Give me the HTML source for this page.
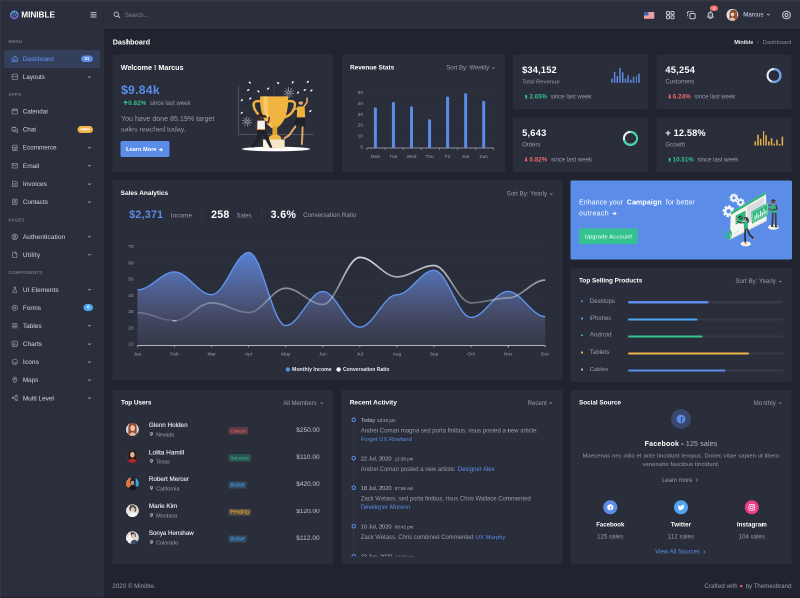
<!DOCTYPE html>
<html lang="en"><head><meta charset="utf-8"><title>Dashboard | Minible</title>
<style>
html,body{margin:0;padding:0;}
body{width:800px;height:598px;overflow:hidden;background:#21242e;font-family:"Liberation Sans",sans-serif;}
#root{will-change:transform;position:absolute;left:0;top:0;width:1600.00px;height:1196.00px;transform:scale(0.5);transform-origin:0 0;overflow:hidden;background:#21242e;}
#root div{box-sizing:border-box;}
.card{background:#2a2e3a;border-radius:3.20px;}
b{font-weight:700;}
</style></head><body><div id="root">
<div class="" style="position:absolute;left:0.00px;top:0.00px;width:208.00px;height:1196.00px;background:#2b2e3b;"></div>
<div class="" style="position:absolute;left:207.20px;top:0.00px;width:0.80px;height:1196.00px;background:#30343f;"></div>
<svg style="position:absolute;left:19.80px;top:20.80px;overflow:visible;" width="17.60" height="17.60" viewBox="0 0 8.8 8.8"><defs><linearGradient id="lg" x1="0.2" y1="0" x2="0.6" y2="1"><stop offset="0" stop-color="#49b4d8"/><stop offset="0.5" stop-color="#5f80d8"/><stop offset="1" stop-color="#8a58bc"/></linearGradient></defs><circle cx="4.4" cy="4.4" r="4.35" fill="url(#lg)"/><path d="M3.2 2.6L5.4 2.4L6.6 4.5L5.4 6.4L3.2 6.3L2 4.5ZM3.2 2.6L4.3 4.4L5.4 2.4M2 4.5H6.6M3.2 6.3L4.3 4.4L5.4 6.4" fill="none" stroke="#2b2e3b" stroke-width="0.4" opacity="0.55"/><circle cx="3.2" cy="2.6" r="0.78" fill="#2b2e3b"/><circle cx="5.4" cy="2.4" r="0.78" fill="#2b2e3b"/><circle cx="2.0" cy="4.5" r="0.78" fill="#2b2e3b"/><circle cx="4.3" cy="4.4" r="0.78" fill="#2b2e3b"/><circle cx="6.6" cy="4.5" r="0.78" fill="#2b2e3b"/><circle cx="3.2" cy="6.3" r="0.78" fill="#2b2e3b"/><circle cx="5.4" cy="6.4" r="0.78" fill="#2b2e3b"/></svg>
<div style="position:absolute;top:20.21px;line-height:19.79px;font-size:16.49px;color:#ffffff;font-weight:700;white-space:nowrap;letter-spacing:-0.08px;left:42.60px;">MINIBLE</div>
<svg style="position:absolute;left:180.80px;top:24.00px;overflow:visible;" width="12.00" height="11.20" viewBox="0 0 6 5.6"><path d="M0 0.6H6M0 2.8H6M0 5H6" stroke="#c5c9d6" stroke-width="1.05"/></svg>
<div style="position:absolute;top:78.40px;line-height:10.80px;font-size:9.00px;color:#70768a;font-weight:700;white-space:nowrap;letter-spacing:0.04em;left:16.80px;">MENU</div>
<div class="" style="position:absolute;left:8.00px;top:99.80px;width:192.20px;height:35.80px;background:#343f5b;border-radius:2.60px;"></div>
<svg style="position:absolute;left:23.20px;top:111.20px;overflow:visible;" width="13.20" height="13.20" viewBox="0 0 6.6 6.6"><path d="M0.6 3.1 L3.3 0.7 L6 3.1 V6 H0.6 Z" fill="none" stroke="#5b8ce8" stroke-width="0.75" stroke-linejoin="round" stroke-linecap="round"/><path d="M2.2 6 V4.2 H4.4 V6" fill="none" stroke="#5b8ce8" stroke-width="0.75" stroke-linejoin="round" stroke-linecap="round"/></svg>
<div style="position:absolute;top:110.75px;line-height:15.11px;font-size:12.59px;color:#5b8ce8;font-weight:400;white-space:nowrap;-webkit-text-stroke:0.20px #5b8ce8;letter-spacing:0.00px;left:45.80px;">Dashboard</div>
<div style="position:absolute;left:161.80px;top:110.80px;width:24.00px;height:13.40px;border-radius:6.80px;background:#5b8ce8;color:#fff;font-size:9.20px;line-height:13.40px;text-align:center;font-weight:700;">01</div>
<svg style="position:absolute;left:23.20px;top:147.20px;overflow:visible;" width="13.20" height="13.20" viewBox="0 0 6.6 6.6"><rect x="0.6" y="0.6" width="5.4" height="5.4" rx="0.8" fill="none" stroke="#8b90a3" stroke-width="0.75" stroke-linejoin="round" stroke-linecap="round"/><path d="M0.6 3.3H6" fill="none" stroke="#8b90a3" stroke-width="0.75" stroke-linejoin="round" stroke-linecap="round"/></svg>
<div style="position:absolute;top:146.80px;line-height:15.01px;font-size:12.51px;color:#bcc0ce;font-weight:400;white-space:nowrap;-webkit-text-stroke:0.20px #bcc0ce;letter-spacing:0.00px;left:45.80px;">Layouts</div>
<svg style="position:absolute;left:175.80px;top:152.70px;overflow:visible;" width="6.00" height="3.00" viewBox="0 0 3.0 1.5"><path d="M0.2 0.1 L1.5 1.2 L2.8 0.1" fill="none" stroke="#a0a5b5" stroke-width="0.75" stroke-linecap="round" stroke-linejoin="round"/></svg>
<div style="position:absolute;top:184.40px;line-height:10.80px;font-size:9.00px;color:#70768a;font-weight:700;white-space:nowrap;letter-spacing:0.04em;left:16.80px;">APPS</div>
<svg style="position:absolute;left:23.20px;top:216.40px;overflow:visible;" width="13.20" height="13.20" viewBox="0 0 6.6 6.6"><rect x="0.6" y="1.2" width="5.4" height="4.8" rx="0.8" fill="none" stroke="#8b90a3" stroke-width="0.75" stroke-linejoin="round" stroke-linecap="round"/><path d="M0.6 2.8H6M2 0.5V1.6M4.6 0.5V1.6" fill="none" stroke="#8b90a3" stroke-width="0.75" stroke-linejoin="round" stroke-linecap="round"/></svg>
<div style="position:absolute;top:215.99px;line-height:15.02px;font-size:12.52px;color:#bcc0ce;font-weight:400;white-space:nowrap;-webkit-text-stroke:0.20px #bcc0ce;letter-spacing:-0.00px;left:45.80px;">Calendar</div>
<svg style="position:absolute;left:23.20px;top:252.60px;overflow:visible;" width="13.20" height="13.20" viewBox="0 0 6.6 6.6"><path d="M0.6 0.8H4.4V3.8H1.8L0.6 4.8Z" fill="none" stroke="#8b90a3" stroke-width="0.75" stroke-linejoin="round" stroke-linecap="round"/><path d="M2.6 4.6V5.4H5L6 6.2V2.6H5.2" fill="none" stroke="#8b90a3" stroke-width="0.75" stroke-linejoin="round" stroke-linecap="round"/></svg>
<div style="position:absolute;top:252.26px;line-height:14.88px;font-size:12.40px;color:#bcc0ce;font-weight:400;white-space:nowrap;-webkit-text-stroke:0.20px #bcc0ce;letter-spacing:0.00px;left:45.80px;">Chat</div>
<div style="position:absolute;left:154.60px;top:252.20px;width:31.20px;height:13.40px;border-radius:6.80px;background:#f1b44c;color:#fff;font-size:9.20px;line-height:13.40px;text-align:center;font-weight:700;">New</div>
<svg style="position:absolute;left:23.20px;top:288.80px;overflow:visible;" width="13.20" height="13.20" viewBox="0 0 6.6 6.6"><path d="M0.6 2.4L1.2 0.7H5.4L6 2.4V2.9H0.6Z" fill="none" stroke="#8b90a3" stroke-width="0.75" stroke-linejoin="round" stroke-linecap="round"/><path d="M1.1 3V6H5.5V3M2.6 6V4.3H4V6" fill="none" stroke="#8b90a3" stroke-width="0.75" stroke-linejoin="round" stroke-linecap="round"/></svg>
<div style="position:absolute;top:288.32px;line-height:15.16px;font-size:12.63px;color:#bcc0ce;font-weight:400;white-space:nowrap;-webkit-text-stroke:0.20px #bcc0ce;letter-spacing:0.00px;left:45.80px;">Ecommerce</div>
<svg style="position:absolute;left:175.80px;top:294.30px;overflow:visible;" width="6.00" height="3.00" viewBox="0 0 3.0 1.5"><path d="M0.2 0.1 L1.5 1.2 L2.8 0.1" fill="none" stroke="#a0a5b5" stroke-width="0.75" stroke-linecap="round" stroke-linejoin="round"/></svg>
<svg style="position:absolute;left:23.20px;top:324.80px;overflow:visible;" width="13.20" height="13.20" viewBox="0 0 6.6 6.6"><rect x="0.6" y="1.1" width="5.4" height="4.4" rx="0.6" fill="none" stroke="#8b90a3" stroke-width="0.75" stroke-linejoin="round" stroke-linecap="round"/><path d="M0.8 1.5L3.3 3.5L5.8 1.5" fill="none" stroke="#8b90a3" stroke-width="0.75" stroke-linejoin="round" stroke-linecap="round"/></svg>
<div style="position:absolute;top:324.17px;line-height:15.45px;font-size:12.88px;color:#bcc0ce;font-weight:400;white-space:nowrap;-webkit-text-stroke:0.20px #bcc0ce;letter-spacing:0.04px;left:45.80px;">Email</div>
<svg style="position:absolute;left:175.80px;top:330.30px;overflow:visible;" width="6.00" height="3.00" viewBox="0 0 3.0 1.5"><path d="M0.2 0.1 L1.5 1.2 L2.8 0.1" fill="none" stroke="#a0a5b5" stroke-width="0.75" stroke-linecap="round" stroke-linejoin="round"/></svg>
<svg style="position:absolute;left:23.20px;top:361.00px;overflow:visible;" width="13.20" height="13.20" viewBox="0 0 6.6 6.6"><path d="M1 0.6H4.2L5.6 2V6H1Z" fill="none" stroke="#8b90a3" stroke-width="0.75" stroke-linejoin="round" stroke-linecap="round"/><path d="M2.2 3.2H4.4M2.2 4.5H4.4" fill="none" stroke="#8b90a3" stroke-width="0.75" stroke-linejoin="round" stroke-linecap="round"/></svg>
<div style="position:absolute;top:360.37px;line-height:15.45px;font-size:12.88px;color:#bcc0ce;font-weight:400;white-space:nowrap;-webkit-text-stroke:0.20px #bcc0ce;letter-spacing:0.10px;left:45.80px;">Invoices</div>
<svg style="position:absolute;left:175.80px;top:366.50px;overflow:visible;" width="6.00" height="3.00" viewBox="0 0 3.0 1.5"><path d="M0.2 0.1 L1.5 1.2 L2.8 0.1" fill="none" stroke="#a0a5b5" stroke-width="0.75" stroke-linecap="round" stroke-linejoin="round"/></svg>
<svg style="position:absolute;left:23.20px;top:397.20px;overflow:visible;" width="13.20" height="13.20" viewBox="0 0 6.6 6.6"><rect x="1" y="0.6" width="4.6" height="5.4" rx="0.6" fill="none" stroke="#8b90a3" stroke-width="0.75" stroke-linejoin="round" stroke-linecap="round"/><circle cx="3.3" cy="2.7" r="0.8" fill="none" stroke="#8b90a3" stroke-width="0.75" stroke-linejoin="round" stroke-linecap="round"/><path d="M2.1 4.8C2.4 3.9 4.2 3.9 4.5 4.8" fill="none" stroke="#8b90a3" stroke-width="0.75" stroke-linejoin="round" stroke-linecap="round"/></svg>
<div style="position:absolute;top:396.70px;line-height:15.20px;font-size:12.67px;color:#bcc0ce;font-weight:400;white-space:nowrap;-webkit-text-stroke:0.20px #bcc0ce;letter-spacing:0.00px;left:45.80px;">Contacts</div>
<svg style="position:absolute;left:175.80px;top:402.70px;overflow:visible;" width="6.00" height="3.00" viewBox="0 0 3.0 1.5"><path d="M0.2 0.1 L1.5 1.2 L2.8 0.1" fill="none" stroke="#a0a5b5" stroke-width="0.75" stroke-linecap="round" stroke-linejoin="round"/></svg>
<div style="position:absolute;top:434.60px;line-height:10.80px;font-size:9.00px;color:#70768a;font-weight:700;white-space:nowrap;letter-spacing:0.04em;left:16.80px;">PAGES</div>
<svg style="position:absolute;left:23.20px;top:466.60px;overflow:visible;" width="13.20" height="13.20" viewBox="0 0 6.6 6.6"><circle cx="3.3" cy="3.3" r="2.8" fill="none" stroke="#8b90a3" stroke-width="0.75" stroke-linejoin="round" stroke-linecap="round"/><circle cx="3.3" cy="2.6" r="0.9" fill="none" stroke="#8b90a3" stroke-width="0.75" stroke-linejoin="round" stroke-linecap="round"/><path d="M1.7 5.2C2.2 4.1 4.4 4.1 4.9 5.2" fill="none" stroke="#8b90a3" stroke-width="0.75" stroke-linejoin="round" stroke-linecap="round"/></svg>
<div style="position:absolute;top:465.97px;line-height:15.45px;font-size:12.88px;color:#bcc0ce;font-weight:400;white-space:nowrap;-webkit-text-stroke:0.20px #bcc0ce;letter-spacing:0.24px;left:45.80px;">Authentication</div>
<svg style="position:absolute;left:175.80px;top:472.10px;overflow:visible;" width="6.00" height="3.00" viewBox="0 0 3.0 1.5"><path d="M0.2 0.1 L1.5 1.2 L2.8 0.1" fill="none" stroke="#a0a5b5" stroke-width="0.75" stroke-linecap="round" stroke-linejoin="round"/></svg>
<svg style="position:absolute;left:23.20px;top:502.80px;overflow:visible;" width="13.20" height="13.20" viewBox="0 0 6.6 6.6"><path d="M1.2 0.6H4L5.4 2V6H1.2Z" fill="none" stroke="#8b90a3" stroke-width="0.75" stroke-linejoin="round" stroke-linecap="round"/><path d="M3.9 0.7V2.1H5.3" fill="none" stroke="#8b90a3" stroke-width="0.75" stroke-linejoin="round" stroke-linecap="round"/></svg>
<div style="position:absolute;top:502.17px;line-height:15.45px;font-size:12.88px;color:#bcc0ce;font-weight:400;white-space:nowrap;-webkit-text-stroke:0.20px #bcc0ce;letter-spacing:0.48px;left:45.80px;">Utility</div>
<svg style="position:absolute;left:175.80px;top:508.30px;overflow:visible;" width="6.00" height="3.00" viewBox="0 0 3.0 1.5"><path d="M0.2 0.1 L1.5 1.2 L2.8 0.1" fill="none" stroke="#a0a5b5" stroke-width="0.75" stroke-linecap="round" stroke-linejoin="round"/></svg>
<div style="position:absolute;top:540.20px;line-height:10.80px;font-size:9.00px;color:#70768a;font-weight:700;white-space:nowrap;letter-spacing:0.04em;left:16.80px;">COMPONENTS</div>
<svg style="position:absolute;left:23.20px;top:572.80px;overflow:visible;" width="13.20" height="13.20" viewBox="0 0 6.6 6.6"><path d="M2.5 0.6H4.1M2.8 0.6V2.4L1.2 5.3C1 5.7 1.2 6 1.7 6H4.9C5.4 6 5.6 5.7 5.4 5.3L3.8 2.4V0.6" fill="none" stroke="#8b90a3" stroke-width="0.75" stroke-linejoin="round" stroke-linecap="round"/></svg>
<div style="position:absolute;top:572.18px;line-height:15.45px;font-size:12.88px;color:#bcc0ce;font-weight:400;white-space:nowrap;-webkit-text-stroke:0.20px #bcc0ce;letter-spacing:0.13px;left:45.80px;">UI Elements</div>
<svg style="position:absolute;left:175.80px;top:578.30px;overflow:visible;" width="6.00" height="3.00" viewBox="0 0 3.0 1.5"><path d="M0.2 0.1 L1.5 1.2 L2.8 0.1" fill="none" stroke="#a0a5b5" stroke-width="0.75" stroke-linecap="round" stroke-linejoin="round"/></svg>
<svg style="position:absolute;left:23.20px;top:608.80px;overflow:visible;" width="13.20" height="13.20" viewBox="0 0 6.6 6.6"><circle cx="3.3" cy="3.3" r="2.7" fill="none" stroke="#8b90a3" stroke-width="0.75" stroke-linejoin="round" stroke-linecap="round"/><circle cx="3.3" cy="3.3" r="1" fill="none" stroke="#8b90a3" stroke-width="0.75" stroke-linejoin="round" stroke-linecap="round"/></svg>
<div style="position:absolute;top:608.23px;line-height:15.33px;font-size:12.78px;color:#bcc0ce;font-weight:400;white-space:nowrap;-webkit-text-stroke:0.20px #bcc0ce;letter-spacing:0.00px;left:45.80px;">Forms</div>
<div style="position:absolute;left:167.40px;top:608.40px;width:18.40px;height:13.40px;border-radius:6.80px;background:#50a5f1;color:#fff;font-size:9.20px;line-height:13.40px;text-align:center;font-weight:700;">6</div>
<svg style="position:absolute;left:23.20px;top:644.80px;overflow:visible;" width="13.20" height="13.20" viewBox="0 0 6.6 6.6"><path d="M0.8 1.2H5.8M0.8 2.6H5.8M0.8 4H5.8M0.8 5.4H5.8" fill="none" stroke="#8b90a3" stroke-width="0.75" stroke-linejoin="round" stroke-linecap="round"/></svg>
<div style="position:absolute;top:644.18px;line-height:15.45px;font-size:12.88px;color:#bcc0ce;font-weight:400;white-space:nowrap;-webkit-text-stroke:0.20px #bcc0ce;letter-spacing:0.03px;left:45.80px;">Tables</div>
<svg style="position:absolute;left:175.80px;top:650.30px;overflow:visible;" width="6.00" height="3.00" viewBox="0 0 3.0 1.5"><path d="M0.2 0.1 L1.5 1.2 L2.8 0.1" fill="none" stroke="#a0a5b5" stroke-width="0.75" stroke-linecap="round" stroke-linejoin="round"/></svg>
<svg style="position:absolute;left:23.20px;top:681.00px;overflow:visible;" width="13.20" height="13.20" viewBox="0 0 6.6 6.6"><rect x="0.6" y="0.6" width="5.4" height="5.4" rx="0.7" fill="none" stroke="#8b90a3" stroke-width="0.75" stroke-linejoin="round" stroke-linecap="round"/><path d="M2 4.8V3.3M3.3 4.8V2M4.6 4.8V3.8" fill="none" stroke="#8b90a3" stroke-width="0.75" stroke-linejoin="round" stroke-linecap="round"/></svg>
<div style="position:absolute;top:680.38px;line-height:15.45px;font-size:12.88px;color:#bcc0ce;font-weight:400;white-space:nowrap;-webkit-text-stroke:0.20px #bcc0ce;letter-spacing:0.05px;left:45.80px;">Charts</div>
<svg style="position:absolute;left:175.80px;top:686.50px;overflow:visible;" width="6.00" height="3.00" viewBox="0 0 3.0 1.5"><path d="M0.2 0.1 L1.5 1.2 L2.8 0.1" fill="none" stroke="#a0a5b5" stroke-width="0.75" stroke-linecap="round" stroke-linejoin="round"/></svg>
<svg style="position:absolute;left:23.20px;top:717.00px;overflow:visible;" width="13.20" height="13.20" viewBox="0 0 6.6 6.6"><circle cx="3.3" cy="3.3" r="2.7" fill="none" stroke="#8b90a3" stroke-width="0.75" stroke-linejoin="round" stroke-linecap="round"/><path d="M2 3.9C2.6 4.9 4 4.9 4.6 3.9" fill="none" stroke="#8b90a3" stroke-width="0.75" stroke-linejoin="round" stroke-linecap="round"/></svg>
<div style="position:absolute;top:716.38px;line-height:15.45px;font-size:12.88px;color:#bcc0ce;font-weight:400;white-space:nowrap;-webkit-text-stroke:0.20px #bcc0ce;letter-spacing:0.29px;left:45.80px;">Icons</div>
<svg style="position:absolute;left:175.80px;top:722.50px;overflow:visible;" width="6.00" height="3.00" viewBox="0 0 3.0 1.5"><path d="M0.2 0.1 L1.5 1.2 L2.8 0.1" fill="none" stroke="#a0a5b5" stroke-width="0.75" stroke-linecap="round" stroke-linejoin="round"/></svg>
<svg style="position:absolute;left:23.20px;top:753.20px;overflow:visible;" width="13.20" height="13.20" viewBox="0 0 6.6 6.6"><path d="M3.3 6.2C1.8 4.5 1.2 3.6 1.2 2.7A2.1 2.1 0 0 1 5.4 2.7C5.4 3.6 4.8 4.5 3.3 6.2Z" fill="none" stroke="#8b90a3" stroke-width="0.75" stroke-linejoin="round" stroke-linecap="round"/><circle cx="3.3" cy="2.7" r="0.7" fill="none" stroke="#8b90a3" stroke-width="0.75" stroke-linejoin="round" stroke-linecap="round"/></svg>
<div style="position:absolute;top:752.74px;line-height:15.11px;font-size:12.60px;color:#bcc0ce;font-weight:400;white-space:nowrap;-webkit-text-stroke:0.20px #bcc0ce;letter-spacing:-0.00px;left:45.80px;">Maps</div>
<svg style="position:absolute;left:175.80px;top:758.70px;overflow:visible;" width="6.00" height="3.00" viewBox="0 0 3.0 1.5"><path d="M0.2 0.1 L1.5 1.2 L2.8 0.1" fill="none" stroke="#a0a5b5" stroke-width="0.75" stroke-linecap="round" stroke-linejoin="round"/></svg>
<svg style="position:absolute;left:23.20px;top:789.40px;overflow:visible;" width="13.20" height="13.20" viewBox="0 0 6.6 6.6"><circle cx="1.5" cy="3.3" r="0.9" fill="none" stroke="#8b90a3" stroke-width="0.75" stroke-linejoin="round" stroke-linecap="round"/><circle cx="5" cy="1.4" r="0.9" fill="none" stroke="#8b90a3" stroke-width="0.75" stroke-linejoin="round" stroke-linecap="round"/><circle cx="5" cy="5.2" r="0.9" fill="none" stroke="#8b90a3" stroke-width="0.75" stroke-linejoin="round" stroke-linecap="round"/><path d="M2.3 2.9L4.2 1.8M2.3 3.7L4.2 4.8" fill="none" stroke="#8b90a3" stroke-width="0.75" stroke-linejoin="round" stroke-linecap="round"/></svg>
<div style="position:absolute;top:788.77px;line-height:15.45px;font-size:12.88px;color:#bcc0ce;font-weight:400;white-space:nowrap;-webkit-text-stroke:0.20px #bcc0ce;letter-spacing:0.06px;left:45.80px;">Multi Level</div>
<svg style="position:absolute;left:175.80px;top:794.90px;overflow:visible;" width="6.00" height="3.00" viewBox="0 0 3.0 1.5"><path d="M0.2 0.1 L1.5 1.2 L2.8 0.1" fill="none" stroke="#a0a5b5" stroke-width="0.75" stroke-linecap="round" stroke-linejoin="round"/></svg>
<div class="" style="position:absolute;left:208.00px;top:0.00px;width:1392.00px;height:58.20px;background:#2b2f3b;box-shadow:0 1.20px 3.20px rgba(10,12,18,0.35);"></div>
<svg style="position:absolute;left:226.60px;top:23.00px;overflow:visible;" width="13.20" height="13.20" viewBox="0 0 6.6 6.6"><circle cx="2.8" cy="2.8" r="2.2" fill="none" stroke="#c5c9d6" stroke-width="0.85"/><path d="M4.5 4.5L6.1 6.1" stroke="#c5c9d6" stroke-width="0.95" stroke-linecap="round"/></svg>
<div style="position:absolute;top:22.63px;line-height:14.33px;font-size:11.94px;color:#7d8296;font-weight:400;white-space:nowrap;letter-spacing:0.00px;left:249.40px;">Search...</div>
<svg style="position:absolute;left:1288.00px;top:24.20px;overflow:visible;" width="20.40" height="13.40" viewBox="0 0 10.2 6.7"><rect width="10.2" height="6.7" rx="0.5" fill="#f2f2f4"/><rect y="0.00" width="10.2" height="0.52" fill="#e8575f"/><rect y="1.03" width="10.2" height="0.52" fill="#e8575f"/><rect y="2.06" width="10.2" height="0.52" fill="#e8575f"/><rect y="3.09" width="10.2" height="0.52" fill="#e8575f"/><rect y="4.12" width="10.2" height="0.52" fill="#e8575f"/><rect y="5.15" width="10.2" height="0.52" fill="#e8575f"/><rect y="6.18" width="10.2" height="0.52" fill="#e8575f"/><rect width="4.5" height="3.6" fill="#4a5fa8"/></svg>
<svg style="position:absolute;left:1332.40px;top:21.80px;overflow:visible;" width="17.20" height="16.40" viewBox="0 0 8.6 8.2"><rect x="0.5" y="0.5" width="3.1" height="2.9" rx="0.8" fill="none" stroke="#c5c9d6" stroke-width="1.0"/><rect x="5.0" y="0.5" width="3.1" height="2.9" rx="0.8" fill="none" stroke="#c5c9d6" stroke-width="1.0"/><rect x="0.5" y="4.8" width="3.1" height="2.9" rx="0.8" fill="none" stroke="#c5c9d6" stroke-width="1.0"/><rect x="5.0" y="4.8" width="3.1" height="2.9" rx="0.8" fill="none" stroke="#c5c9d6" stroke-width="1.0"/></svg>
<svg style="position:absolute;left:1374.40px;top:21.60px;overflow:visible;" width="17.60" height="16.80" viewBox="0 0 8.8 8.4"><rect x="2.9" y="2.5" width="5.2" height="5.3" rx="1.0" fill="none" stroke="#c5c9d6" stroke-width="1.0" stroke-width="1.15"/><path d="M0.6 4.9V4.3M0.6 2.6V1.5Q0.6 0.6 1.5 0.6H2.1M3.6 0.6H4.4M5.8 0.6H6.2" fill="none" stroke="#c5c9d6" stroke-width="1.0" stroke-linecap="round"/></svg>
<svg style="position:absolute;left:1414.40px;top:22.40px;overflow:visible;" width="13.60" height="16.00" viewBox="0 0 6.8 8"><path d="M1.2 5.5V3.5A2.2 2.2 0 0 1 5.6 3.5V5.5L6.2 6.2H0.6Z" fill="#c5c9d6" fill-opacity="0.25" stroke="#c5c9d6" stroke-width="1.0" stroke-linejoin="round"/><path d="M2.6 7.4H4.2" fill="none" stroke="#c5c9d6" stroke-width="1.0" stroke-linecap="round"/><path d="M3.4 0.4V1" fill="none" stroke="#c5c9d6" stroke-width="1.0" stroke-linecap="round"/></svg>
<div style="position:absolute;left:1420.20px;top:10.60px;width:15.80px;height:11.00px;border-radius:5.60px;background:#f46a6a;color:#fff;font-size:8.00px;line-height:11.00px;text-align:center;font-weight:700;">3</div>
<svg style="position:absolute;left:1452.40px;top:17.00px;overflow:visible;" width="25.60" height="25.60" viewBox="0 0 12.8 12.8"><defs><clipPath id="avc"><circle cx="6.4" cy="6.4" r="5.9"/></clipPath></defs><circle cx="6.4" cy="6.4" r="6.4" fill="#3a3e4c"/><g clip-path="url(#avc)"><rect width="12.8" height="12.8" fill="#e6dfe6"/><path d="M3.6 13V7C3.2 3 5 1.2 7.2 1.2C10 1.2 11.6 3.4 11.2 7.4L12 13Z" fill="#7d3f2c"/><path d="M8.6 2.4C10.6 3.4 11 6 10.6 8.4L11.4 13H8.8Z" fill="#9a5238"/><ellipse cx="6.5" cy="5.6" rx="1.9" ry="2.5" fill="#f0c9b1"/><path d="M4.4 4.6C5 3 7.6 2.6 8.6 4.4C7.4 4 5.6 4 4.4 4.6Z" fill="#7d3f2c"/><path d="M3.2 13C3.6 9.8 5 9 6.4 9C7.8 9 9 9.6 9.6 13Z" fill="#ebbfa6"/></g></svg>
<div style="position:absolute;top:21.84px;line-height:14.71px;font-size:12.26px;color:#c8ccd8;font-weight:400;white-space:nowrap;-webkit-text-stroke:0.20px #c8ccd8;letter-spacing:0.00px;left:1486.60px;">Marcus</div>
<svg style="position:absolute;left:1534.40px;top:28.20px;overflow:visible;" width="5.60" height="2.80" viewBox="0 0 2.8 1.4"><path d="M0.2 0.1 L1.4 1.0999999999999999 L2.5999999999999996 0.1" fill="none" stroke="#c3c7d4" stroke-width="0.75" stroke-linecap="round" stroke-linejoin="round"/></svg>
<svg style="position:absolute;left:1564.20px;top:21.00px;overflow:visible;" width="18.00" height="18.00" viewBox="0 0 9 9"><path d="M4.5 0.6L5.6 1.3L6.9 1.2L7.4 2.4L8.4 3.2L8.1 4.5L8.4 5.8L7.4 6.6L6.9 7.8L5.6 7.7L4.5 8.4L3.4 7.7L2.1 7.8L1.6 6.6L0.6 5.8L0.9 4.5L0.6 3.2L1.6 2.4L2.1 1.2L3.4 1.3Z" fill="none" stroke="#c5c9d6" stroke-width="1.0" stroke-linejoin="round"/><circle cx="4.5" cy="4.5" r="1.5" fill="none" stroke="#c5c9d6" stroke-width="1.0"/></svg>
<div style="position:absolute;top:75.87px;line-height:17.06px;font-size:14.21px;color:#ffffff;font-weight:700;white-space:nowrap;letter-spacing:0.06px;left:225.40px;">Dashboard</div>
<div style="position:absolute;top:77.78px;line-height:13.24px;font-size:11.03px;color:#e8eaf0;font-weight:700;white-space:nowrap;letter-spacing:-0.00px;left:1468.60px;">Minible</div>
<div style="position:absolute;top:77.80px;line-height:13.20px;font-size:11.00px;color:#6f7488;font-weight:400;white-space:nowrap;left:1115.80px;width:800.00px;text-align:center;">/</div>
<div style="position:absolute;top:77.60px;line-height:13.60px;font-size:11.33px;color:#8d92a5;font-weight:400;white-space:nowrap;letter-spacing:0.20px;left:1525.80px;">Dashboard</div>
<div class="card" style="position:absolute;left:224.80px;top:108.70px;width:440.80px;height:234.90px;"></div>
<div style="position:absolute;top:126.60px;line-height:17.20px;font-size:14.33px;color:#ffffff;font-weight:700;white-space:nowrap;letter-spacing:0.00px;left:241.40px;">Welcome ! Marcus</div>
<div style="position:absolute;top:164.82px;line-height:29.17px;font-size:24.31px;color:#5b8ce8;font-weight:700;white-space:nowrap;letter-spacing:0.57px;left:242.00px;">$9.84k</div>
<svg style="position:absolute;left:246.60px;top:201.00px;overflow:visible;" width="8.00" height="8.40" viewBox="0 0 4.0 4.2"><path d="M2 4V0.8M0.5 2.2L2 0.6L3.5 2.2" fill="none" stroke="#34c38f" stroke-width="1.0" stroke-linecap="round" stroke-linejoin="round"/></svg>
<div style="position:absolute;top:198.51px;line-height:14.58px;font-size:12.15px;color:#34c38f;font-weight:700;white-space:nowrap;letter-spacing:0.31px;left:256.60px;">0.82%</div>
<div style="position:absolute;top:198.56px;line-height:14.48px;font-size:12.06px;color:#989db0;font-weight:400;white-space:nowrap;letter-spacing:0.00px;left:299.40px;">since last week</div>
<div style="position:absolute;top:229.00px;line-height:16.81px;font-size:14.01px;color:#989db0;font-weight:400;white-space:nowrap;letter-spacing:0.10px;left:242.00px;">You have done 85.19% target</div>
<div style="position:absolute;top:250.00px;line-height:16.81px;font-size:14.01px;color:#989db0;font-weight:400;white-space:nowrap;letter-spacing:0.07px;left:242.00px;">sales reached today.</div>
<div class="" style="position:absolute;left:241.20px;top:282.20px;width:97.40px;height:31.80px;background:#5b8ce8;border-radius:3.80px;"></div>
<div style="position:absolute;top:292.19px;line-height:13.62px;font-size:11.35px;color:#ffffff;font-weight:700;white-space:nowrap;letter-spacing:0.00px;left:252.00px;">Learn More</div>
<svg style="position:absolute;left:318.40px;top:295.60px;overflow:visible;" width="7.20" height="6.80" viewBox="0 0 3.6 3.4"><path d="M0.3 1.7H3.1M1.9 0.4L3.2 1.7L1.9 3" fill="none" stroke="#ffffff" stroke-width="0.85" stroke-linecap="round" stroke-linejoin="round"/></svg>
<svg style="position:absolute;left:0;top:0;overflow:visible" width="1600.00" height="1196.00" viewBox="0 0 800 598"><path d="M238.6 85.5V134.7H313.5" fill="none" stroke="#70748a" stroke-width="0.5"/><path d="M274.1 83V96" stroke="#555a6c" stroke-width="0.4"/><ellipse cx="276" cy="149" rx="34" ry="2.3" fill="#ffffff"/><rect x="263.2" y="139.5" width="21.5" height="9" fill="#f4e6c6"/><rect x="263.2" y="139.5" width="6" height="9" fill="#fbf3df"/><path d="M261.5 101.5C253 99.5 252.5 104 254.6 109C256.6 113.6 260.6 116.6 265 117.6" fill="none" stroke="#efb03e" stroke-width="2.4" stroke-linecap="round"/><path d="M287 101.5C295.5 99.5 296 104 293.9 109C291.9 113.6 287.9 116.6 283.5 117.6" fill="none" stroke="#efb03e" stroke-width="2.4" stroke-linecap="round"/><path d="M260.1 96.4H288.2C288.6 110 285.4 122.5 277.4 127.4H271C263 122.5 259.7 110 260.1 96.4Z" fill="#f2b441"/><path d="M263.4 96.4H267.6C267.4 110 268.6 121 272.8 127.4H271C265 122 263 110 263.4 96.4Z" fill="#f8cf78" opacity="0.75"/><rect x="272.4" y="126.5" width="4.8" height="9.6" fill="#e4a330"/><path d="M268.6 139.5C268.6 136 271 134.8 274.9 134.8C278.8 134.8 281.3 136 281.3 139.5Z" fill="#f2b441"/><path d="M258 116.4C257.6 113 262.6 112.6 263 115.4C265 114.6 267 116 266.6 118.4C265.2 117 264 117.2 262.8 118Z" fill="#1c1d25"/><circle cx="260.4" cy="117" r="2.15" fill="#5e2f22"/><path d="M258.2 116.2C258.4 114 262.4 114 262.6 116.2C261.4 115.2 259.4 115.2 258.2 116.2Z" fill="#1c1d25"/><path d="M257.6 121.6L255.4 126L257.2 130.4" fill="none" stroke="#5e2f22" stroke-width="1.6" stroke-linecap="round" stroke-linejoin="round"/><path d="M264.4 121.6L268.4 122.6L269.2 117.6" fill="none" stroke="#5e2f22" stroke-width="1.6" stroke-linecap="round" stroke-linejoin="round"/><path d="M257.4 120.6H264.8L265 129.6H257.2Z" fill="#f4f2f1"/><rect x="257.2" y="129" width="7.8" height="1" fill="#e0913a"/><path d="M257.2 130H265L268.6 138L272.4 147.8H270L265.4 139.6L262.6 135L259.6 140.6L252.4 148L250.8 146.6L256.6 139Z" fill="#1f212a"/><path d="M303.6 107L306.8 102.6L307.2 98.2" fill="none" stroke="#e6a96c" stroke-width="1.6" stroke-linecap="round" stroke-linejoin="round"/><path d="M298 108.4L292.6 109.8" fill="none" stroke="#e6a96c" stroke-width="1.6" stroke-linecap="round"/><circle cx="300.8" cy="102.7" r="2.2" fill="#e6a96c"/><path d="M298.7 102C298.8 99.8 302.6 99.6 303 102C301.6 101.2 300 101.2 298.7 102Z" fill="#2a2320"/><path d="M297.2 106.6L304.6 106.2L305.2 117.6H296.8Z" fill="#efb03e"/><path d="M296.8 117.4H305.2L305 127.4H300.6L299.4 122.6L296.6 127.6L293.2 125.6Z" fill="#1f212a"/><path d="M295.4 126.4L289 135.4L284.6 138.2" fill="none" stroke="#e6a96c" stroke-width="2.0" stroke-linecap="round" stroke-linejoin="round"/><path d="M302.6 127.2L302.3 137L301.8 144" fill="none" stroke="#e6a96c" stroke-width="1.9" stroke-linecap="round" stroke-linejoin="round"/><ellipse cx="249.8" cy="82.6" rx="1.35" ry="0.75" fill="#ffffff" transform="rotate(35 249.8 82.6)"/><ellipse cx="248.2" cy="90" rx="1.35" ry="0.75" fill="#ffffff" transform="rotate(-30 248.2 90)"/><ellipse cx="258.4" cy="91.4" rx="1.35" ry="0.75" fill="#ffffff" transform="rotate(50 258.4 91.4)"/><ellipse cx="268.2" cy="88.6" rx="1.35" ry="0.75" fill="#ffffff" transform="rotate(-40 268.2 88.6)"/><ellipse cx="250.3" cy="98.5" rx="1.35" ry="0.75" fill="#ffffff" transform="rotate(-40 250.3 98.5)"/><ellipse cx="241.8" cy="100.2" rx="1.35" ry="0.75" fill="#ffffff" transform="rotate(-55 241.8 100.2)"/><ellipse cx="241.8" cy="112.8" rx="1.35" ry="0.75" fill="#ffffff" transform="rotate(-40 241.8 112.8)"/><ellipse cx="278.1" cy="83" rx="1.35" ry="0.75" fill="#ffffff" transform="rotate(35 278.1 83)"/><ellipse cx="292.7" cy="82.3" rx="1.35" ry="0.75" fill="#ffffff" transform="rotate(-55 292.7 82.3)"/><ellipse cx="307.8" cy="81.9" rx="1.35" ry="0.75" fill="#ffffff" transform="rotate(-40 307.8 81.9)"/><ellipse cx="298" cy="92.6" rx="1.35" ry="0.75" fill="#ffffff" transform="rotate(-55 298 92.6)"/><ellipse cx="304.8" cy="90" rx="1.35" ry="0.75" fill="#ffffff" transform="rotate(-30 304.8 90)"/><ellipse cx="311.4" cy="90.5" rx="1.35" ry="0.75" fill="#ffffff" transform="rotate(-40 311.4 90.5)"/><ellipse cx="310.4" cy="111.1" rx="1.35" ry="0.75" fill="#ffffff" transform="rotate(-40 310.4 111.1)"/><path d="M289.87 92.85L293.94 93.89M289.54 93.37L292.22 96.60M288.96 93.60L289.23 97.79M288.37 93.45L286.12 96.99M287.97 92.97L284.07 94.52M287.93 92.35L283.86 91.31M288.26 91.83L285.58 88.60M288.84 91.60L288.57 87.41M289.43 91.75L291.68 88.21M289.83 92.23L293.73 90.68" stroke="#e9ebf1" stroke-width="0.45" fill="none" stroke-linecap="round"/><path d="M247.97 121.85L251.65 122.79M247.64 122.37L250.06 125.29M247.06 122.60L247.31 126.39M246.47 122.45L244.43 125.66M246.07 121.97L242.54 123.37M246.03 121.35L242.35 120.41M246.36 120.83L243.94 117.91M246.94 120.60L246.69 116.81M247.53 120.75L249.57 117.54M247.93 121.23L251.46 119.83" stroke="#e9ebf1" stroke-width="0.45" fill="none" stroke-linecap="round"/></svg>
<div class="card" style="position:absolute;left:683.60px;top:108.70px;width:326.40px;height:234.90px;"></div>
<div style="position:absolute;top:126.70px;line-height:15.39px;font-size:12.83px;color:#ffffff;font-weight:700;white-space:nowrap;letter-spacing:0.00px;left:700.00px;">Revenue Stats</div>
<div style="position:absolute;top:127.73px;line-height:14.55px;font-size:12.12px;color:#989db0;font-weight:400;white-space:nowrap;letter-spacing:-0.00px;left:892.40px;">Sort By: Weekly</div>
<svg style="position:absolute;left:984.20px;top:134.50px;overflow:visible;" width="5.20" height="2.60" viewBox="0 0 2.6 1.3"><path d="M0.2 0.1 L1.3 1.0 L2.4 0.1" fill="none" stroke="#989db0" stroke-width="0.7" stroke-linecap="round" stroke-linejoin="round"/></svg>
<svg style="position:absolute;left:0;top:0;overflow:visible" width="1600.00" height="1196.00" viewBox="0 0 800 598"><path d="M366.9 93.25H493.6" stroke="#343846" stroke-width="0.4"/><text x="363" y="94.15" font-size="4.8" fill="#9ca1b2" text-anchor="end" font-family="Liberation Sans, sans-serif">50</text><path d="M366.9 104.10H493.6" stroke="#343846" stroke-width="0.4"/><text x="363" y="105.00" font-size="4.8" fill="#9ca1b2" text-anchor="end" font-family="Liberation Sans, sans-serif">40</text><path d="M366.9 114.95H493.6" stroke="#343846" stroke-width="0.4"/><text x="363" y="115.85" font-size="4.8" fill="#9ca1b2" text-anchor="end" font-family="Liberation Sans, sans-serif">30</text><path d="M366.9 125.80H493.6" stroke="#343846" stroke-width="0.4"/><text x="363" y="126.70" font-size="4.8" fill="#9ca1b2" text-anchor="end" font-family="Liberation Sans, sans-serif">20</text><path d="M366.9 136.65H493.6" stroke="#343846" stroke-width="0.4"/><text x="363" y="137.55" font-size="4.8" fill="#9ca1b2" text-anchor="end" font-family="Liberation Sans, sans-serif">10</text><text x="363" y="148.40" font-size="4.8" fill="#9ca1b2" text-anchor="end" font-family="Liberation Sans, sans-serif">0</text><path d="M366.9 148.0H493.6" stroke="#aeb2c0" stroke-width="0.75"/><path d="M366.90 148.0V149.9" stroke="#aeb2c0" stroke-width="0.6"/><path d="M385.00 148.0V149.9" stroke="#aeb2c0" stroke-width="0.6"/><path d="M403.10 148.0V149.9" stroke="#aeb2c0" stroke-width="0.6"/><path d="M421.20 148.0V149.9" stroke="#aeb2c0" stroke-width="0.6"/><path d="M439.30 148.0V149.9" stroke="#aeb2c0" stroke-width="0.6"/><path d="M457.40 148.0V149.9" stroke="#aeb2c0" stroke-width="0.6"/><path d="M475.50 148.0V149.9" stroke="#aeb2c0" stroke-width="0.6"/><path d="M493.60 148.0V149.9" stroke="#aeb2c0" stroke-width="0.6"/><path d="M373.90 147.5V108.66Q373.90 107.36 375.40 107.36Q376.90 107.36 376.90 108.66V147.5Z" fill="#5b8ce8"/><text x="375.40" y="158" font-size="4.8" fill="#9ca1b2" text-anchor="middle" font-family="Liberation Sans, sans-serif">Mon</text><path d="M391.95 147.5V103.23Q391.95 101.93 393.45 101.93Q394.95 101.93 394.95 103.23V147.5Z" fill="#5b8ce8"/><text x="393.45" y="158" font-size="4.8" fill="#9ca1b2" text-anchor="middle" font-family="Liberation Sans, sans-serif">Tue</text><path d="M410.00 147.5V107.57Q410.00 106.27 411.50 106.27Q413.00 106.27 413.00 107.57V147.5Z" fill="#5b8ce8"/><text x="411.50" y="158" font-size="4.8" fill="#9ca1b2" text-anchor="middle" font-family="Liberation Sans, sans-serif">Wed</text><path d="M428.05 147.5V120.59Q428.05 119.29 429.55 119.29Q431.05 119.29 431.05 120.59V147.5Z" fill="#5b8ce8"/><text x="429.55" y="158" font-size="4.8" fill="#9ca1b2" text-anchor="middle" font-family="Liberation Sans, sans-serif">Thu</text><path d="M446.10 147.5V97.80Q446.10 96.50 447.60 96.50Q449.10 96.50 449.10 97.80V147.5Z" fill="#5b8ce8"/><text x="447.60" y="158" font-size="4.8" fill="#9ca1b2" text-anchor="middle" font-family="Liberation Sans, sans-serif">Fri</text><path d="M464.15 147.5V94.55Q464.15 93.25 465.65 93.25Q467.15 93.25 467.15 94.55V147.5Z" fill="#5b8ce8"/><text x="465.65" y="158" font-size="4.8" fill="#9ca1b2" text-anchor="middle" font-family="Liberation Sans, sans-serif">Sat</text><path d="M482.20 147.5V102.14Q482.20 100.84 483.70 100.84Q485.20 100.84 485.20 102.14V147.5Z" fill="#5b8ce8"/><text x="483.70" y="158" font-size="4.8" fill="#9ca1b2" text-anchor="middle" font-family="Liberation Sans, sans-serif">Sun</text></svg>
<div class="card" style="position:absolute;left:1026.20px;top:108.60px;width:270.20px;height:109.20px;"></div>
<div style="position:absolute;top:128.68px;line-height:22.25px;font-size:18.54px;color:#ffffff;font-weight:700;white-space:nowrap;letter-spacing:0.37px;left:1044.20px;">$34,152</div>
<div style="position:absolute;top:156.14px;line-height:14.11px;font-size:11.76px;color:#989db0;font-weight:400;white-space:nowrap;letter-spacing:0.00px;left:1044.20px;">Total Revenue</div>
<svg style="position:absolute;left:1049.40px;top:188.60px;overflow:visible;" width="6.60" height="8.80" viewBox="0 0 3.3 4.4"><path d="M1.65 0L3.3 2H2.35V4.4H0.95V2H0Z" fill="#34c38f"/></svg>
<div style="position:absolute;top:186.11px;line-height:14.58px;font-size:12.15px;color:#34c38f;font-weight:700;white-space:nowrap;letter-spacing:0.11px;left:1059.00px;">2.65%</div>
<div style="position:absolute;top:186.16px;line-height:14.48px;font-size:12.06px;color:#989db0;font-weight:400;white-space:nowrap;letter-spacing:0.00px;left:1101.20px;">since last week</div>
<svg style="position:absolute;left:0;top:0;overflow:visible" width="1600.00" height="1196.00" viewBox="0 0 800 598"><rect x="611.10" y="78.66" width="1.55" height="4.14" fill="#5b86dd"/><rect x="613.81" y="71.85" width="1.55" height="10.95" fill="#5b86dd"/><rect x="616.52" y="75.99" width="1.55" height="6.81" fill="#5b86dd"/><rect x="619.23" y="68.00" width="1.55" height="14.80" fill="#5b86dd"/><rect x="621.94" y="72.29" width="1.55" height="10.51" fill="#5b86dd"/><rect x="624.65" y="78.66" width="1.55" height="4.14" fill="#5b86dd"/><rect x="627.36" y="75.40" width="1.55" height="7.40" fill="#5b86dd"/><rect x="630.07" y="79.69" width="1.55" height="3.11" fill="#5b86dd"/><rect x="632.78" y="76.88" width="1.55" height="5.92" fill="#5b86dd"/><rect x="635.49" y="76.14" width="1.55" height="6.66" fill="#5b86dd"/><rect x="638.20" y="73.77" width="1.55" height="9.03" fill="#5b86dd"/></svg>
<div class="card" style="position:absolute;left:1312.80px;top:108.60px;width:270.20px;height:109.20px;"></div>
<div style="position:absolute;top:128.68px;line-height:22.25px;font-size:18.54px;color:#ffffff;font-weight:700;white-space:nowrap;letter-spacing:0.45px;left:1330.80px;">45,254</div>
<div style="position:absolute;top:156.03px;line-height:14.35px;font-size:11.96px;color:#989db0;font-weight:400;white-space:nowrap;letter-spacing:0.00px;left:1330.80px;">Customers</div>
<svg style="position:absolute;left:1336.00px;top:188.60px;overflow:visible;" width="6.60" height="8.80" viewBox="0 0 3.3 4.4"><path d="M1.65 4.4L3.3 2.4H2.35V0H0.95V2.4H0Z" fill="#f46a6a"/></svg>
<div style="position:absolute;top:186.11px;line-height:14.58px;font-size:12.15px;color:#f46a6a;font-weight:700;white-space:nowrap;letter-spacing:0.31px;left:1345.60px;">6.24%</div>
<div style="position:absolute;top:186.16px;line-height:14.48px;font-size:12.06px;color:#989db0;font-weight:400;white-space:nowrap;letter-spacing:0.00px;left:1388.80px;">since last week</div>
<svg style="position:absolute;left:0;top:0;overflow:visible" width="1600.00" height="1196.00" viewBox="0 0 800 598"><circle cx="774.0" cy="75.5" r="6.45" fill="none" stroke="#e9edf6" stroke-width="2.1"/><circle cx="774.0" cy="75.5" r="6.45" fill="none" stroke="#6ea4f4" stroke-width="2.1" stroke-dasharray="22.29 40.53" transform="rotate(-90 774.0 75.5)"/></svg>
<div class="card" style="position:absolute;left:1026.20px;top:234.80px;width:270.20px;height:109.20px;"></div>
<div style="position:absolute;top:254.88px;line-height:22.25px;font-size:18.54px;color:#ffffff;font-weight:700;white-space:nowrap;letter-spacing:0.48px;left:1044.20px;">5,643</div>
<div style="position:absolute;top:282.18px;line-height:14.45px;font-size:12.04px;color:#989db0;font-weight:400;white-space:nowrap;letter-spacing:0.00px;left:1044.20px;">Orders</div>
<svg style="position:absolute;left:1049.40px;top:314.80px;overflow:visible;" width="6.60" height="8.80" viewBox="0 0 3.3 4.4"><path d="M1.65 4.4L3.3 2.4H2.35V0H0.95V2.4H0Z" fill="#f46a6a"/></svg>
<div style="position:absolute;top:312.31px;line-height:14.58px;font-size:12.15px;color:#f46a6a;font-weight:700;white-space:nowrap;letter-spacing:0.31px;left:1059.00px;">0.82%</div>
<div style="position:absolute;top:312.36px;line-height:14.48px;font-size:12.06px;color:#989db0;font-weight:400;white-space:nowrap;letter-spacing:0.00px;left:1102.20px;">since last week</div>
<svg style="position:absolute;left:0;top:0;overflow:visible" width="1600.00" height="1196.00" viewBox="0 0 800 598"><circle cx="630.4" cy="138.4" r="6.45" fill="none" stroke="#e9edf6" stroke-width="2.1"/><circle cx="630.4" cy="138.4" r="6.45" fill="none" stroke="#3fd9a2" stroke-width="2.1" stroke-dasharray="28.37 40.53" transform="rotate(-90 630.4 138.4)"/></svg>
<div class="card" style="position:absolute;left:1312.80px;top:234.80px;width:270.20px;height:109.20px;"></div>
<div style="position:absolute;top:254.88px;line-height:22.25px;font-size:18.54px;color:#ffffff;font-weight:700;white-space:nowrap;letter-spacing:0.24px;left:1330.80px;">+ 12.58%</div>
<div style="position:absolute;top:282.11px;line-height:14.58px;font-size:12.15px;color:#989db0;font-weight:400;white-space:nowrap;letter-spacing:0.07px;left:1330.80px;">Growth</div>
<svg style="position:absolute;left:1336.00px;top:314.80px;overflow:visible;" width="6.60" height="8.80" viewBox="0 0 3.3 4.4"><path d="M1.65 0L3.3 2H2.35V4.4H0.95V2H0Z" fill="#34c38f"/></svg>
<div style="position:absolute;top:312.31px;line-height:14.58px;font-size:12.15px;color:#34c38f;font-weight:700;white-space:nowrap;letter-spacing:0.13px;left:1345.60px;">10.51%</div>
<div style="position:absolute;top:312.36px;line-height:14.48px;font-size:12.06px;color:#989db0;font-weight:400;white-space:nowrap;letter-spacing:0.00px;left:1394.80px;">since last week</div>
<svg style="position:absolute;left:0;top:0;overflow:visible" width="1600.00" height="1196.00" viewBox="0 0 800 598"><rect x="754.50" y="141.44" width="1.55" height="4.06" fill="#e9ae48"/><rect x="757.21" y="134.77" width="1.55" height="10.73" fill="#e9ae48"/><rect x="759.92" y="138.83" width="1.55" height="6.67" fill="#e9ae48"/><rect x="762.63" y="131.00" width="1.55" height="14.50" fill="#e9ae48"/><rect x="765.34" y="135.21" width="1.55" height="10.29" fill="#e9ae48"/><rect x="768.05" y="141.44" width="1.55" height="4.06" fill="#e9ae48"/><rect x="770.76" y="138.25" width="1.55" height="7.25" fill="#e9ae48"/><rect x="773.47" y="143.62" width="1.55" height="1.89" fill="#e9ae48"/><rect x="776.18" y="139.70" width="1.55" height="5.80" fill="#e9ae48"/><rect x="778.89" y="144.05" width="1.55" height="1.45" fill="#e9ae48"/><rect x="781.60" y="136.66" width="1.55" height="8.85" fill="#e9ae48"/></svg>
<div class="card" style="position:absolute;left:224.80px;top:361.00px;width:900.20px;height:400.40px;"></div>
<div style="position:absolute;top:378.18px;line-height:15.65px;font-size:13.04px;color:#ffffff;font-weight:700;white-space:nowrap;letter-spacing:0.00px;left:241.20px;">Sales Analytics</div>
<div style="position:absolute;top:380.11px;line-height:14.58px;font-size:12.15px;color:#989db0;font-weight:400;white-space:nowrap;letter-spacing:0.09px;left:1013.20px;">Sort By: Yearly</div>
<svg style="position:absolute;left:1100.20px;top:386.90px;overflow:visible;" width="5.20" height="2.60" viewBox="0 0 2.6 1.3"><path d="M0.2 0.1 L1.3 1.0 L2.4 0.1" fill="none" stroke="#989db0" stroke-width="0.7" stroke-linecap="round" stroke-linejoin="round"/></svg>
<div style="position:absolute;top:416.07px;line-height:25.46px;font-size:21.22px;color:#5b8ce8;font-weight:700;white-space:nowrap;letter-spacing:0.55px;left:258.40px;">$2,371</div>
<div style="position:absolute;top:423.34px;line-height:15.33px;font-size:12.77px;color:#989db0;font-weight:400;white-space:nowrap;letter-spacing:0.09px;left:341.60px;">Income</div>
<div class="" style="position:absolute;left:402.80px;top:415.00px;width:0.80px;height:28.00px;background:#383c4a;"></div>
<div style="position:absolute;top:416.07px;line-height:25.46px;font-size:21.22px;color:#ffffff;font-weight:700;white-space:nowrap;letter-spacing:0.53px;left:422.20px;">258</div>
<div style="position:absolute;top:423.71px;line-height:14.58px;font-size:12.15px;color:#989db0;font-weight:400;white-space:nowrap;letter-spacing:0.00px;left:473.00px;">Sales</div>
<div class="" style="position:absolute;left:522.00px;top:415.00px;width:0.80px;height:28.00px;background:#383c4a;"></div>
<div style="position:absolute;top:416.07px;line-height:25.46px;font-size:21.22px;color:#ffffff;font-weight:700;white-space:nowrap;letter-spacing:0.76px;left:541.20px;">3.6%</div>
<div style="position:absolute;top:423.48px;line-height:15.04px;font-size:12.53px;color:#989db0;font-weight:400;white-space:nowrap;letter-spacing:0.00px;left:606.20px;">Conversation Ratio</div>
<svg style="position:absolute;left:0;top:0;overflow:visible" width="1600.00" height="1196.00" viewBox="0 0 800 598"><defs><linearGradient id="ag" x1="0" y1="0" x2="0" y2="1"><stop offset="0" stop-color="#5b8ce8" stop-opacity="0.88"/><stop offset="0.47" stop-color="#728cdb" stop-opacity="0.46"/><stop offset="0.65" stop-color="#808ed6" stop-opacity="0.31"/><stop offset="0.82" stop-color="#8d91d4" stop-opacity="0.19"/><stop offset="1" stop-color="#9498d2" stop-opacity="0.11"/></linearGradient><linearGradient id="gl" gradientUnits="userSpaceOnUse" x1="0" y1="257.4" x2="0" y2="320.7"><stop offset="0" stop-color="#dcdde4" stop-opacity="0.95"/><stop offset="0.5" stop-color="#dcdde4" stop-opacity="0.55"/><stop offset="1" stop-color="#dcdde4" stop-opacity="0.18"/></linearGradient></defs><path d="M137.5 247.60H545.20" stroke="#343846" stroke-width="0.4"/><path d="M137.5 263.85H545.20" stroke="#343846" stroke-width="0.4"/><path d="M137.5 280.10H545.20" stroke="#343846" stroke-width="0.4"/><path d="M137.5 296.35H545.20" stroke="#343846" stroke-width="0.4"/><path d="M137.5 312.60H545.20" stroke="#343846" stroke-width="0.4"/><path d="M137.5 328.85H545.20" stroke="#343846" stroke-width="0.4"/><text x="133.6" y="248.20" font-size="4.8" fill="#9ca1b2" text-anchor="end" font-family="Liberation Sans, sans-serif">70</text><text x="133.6" y="264.45" font-size="4.8" fill="#9ca1b2" text-anchor="end" font-family="Liberation Sans, sans-serif">60</text><text x="133.6" y="280.70" font-size="4.8" fill="#9ca1b2" text-anchor="end" font-family="Liberation Sans, sans-serif">50</text><text x="133.6" y="296.95" font-size="4.8" fill="#9ca1b2" text-anchor="end" font-family="Liberation Sans, sans-serif">40</text><text x="133.6" y="313.20" font-size="4.8" fill="#9ca1b2" text-anchor="end" font-family="Liberation Sans, sans-serif">30</text><text x="133.6" y="329.45" font-size="4.8" fill="#9ca1b2" text-anchor="end" font-family="Liberation Sans, sans-serif">20</text><text x="133.6" y="345.70" font-size="4.8" fill="#9ca1b2" text-anchor="end" font-family="Liberation Sans, sans-serif">10</text><path d="M137.50 289.85C150.84 289.85 161.22 271.98 174.56 271.98C187.91 271.98 198.28 294.73 211.63 294.73C224.97 294.73 235.35 252.48 248.69 252.48C262.03 252.48 272.41 325.60 285.75 325.60C299.10 325.60 309.48 291.48 322.82 291.48C336.16 291.48 346.54 327.23 359.88 327.23C373.22 327.23 383.60 294.73 396.95 294.73C410.29 294.73 420.67 270.35 434.01 270.35C447.35 270.35 457.73 317.48 471.07 317.48C484.42 317.48 494.79 291.48 508.14 291.48C521.48 291.48 531.86 316.66 545.20 316.66V345.1H137.5Z" fill="url(#ag)"/><path d="M137.50 289.85C150.84 289.85 161.22 271.98 174.56 271.98C187.91 271.98 198.28 294.73 211.63 294.73C224.97 294.73 235.35 252.48 248.69 252.48C262.03 252.48 272.41 325.60 285.75 325.60C299.10 325.60 309.48 291.48 322.82 291.48C336.16 291.48 346.54 327.23 359.88 327.23C373.22 327.23 383.60 294.73 396.95 294.73C410.29 294.73 420.67 270.35 434.01 270.35C447.35 270.35 457.73 317.48 471.07 317.48C484.42 317.48 494.79 291.48 508.14 291.48C521.48 291.48 531.86 316.66 545.20 316.66" fill="none" stroke="#5f93ee" stroke-width="1.4"/><path d="M137.50 312.60C150.84 312.60 161.22 320.73 174.56 320.73C187.91 320.73 198.28 302.85 211.63 302.85C224.97 302.85 235.35 312.60 248.69 312.60C262.03 312.60 272.41 288.23 285.75 288.23C299.10 288.23 309.48 304.48 322.82 304.48C336.16 304.48 346.54 257.35 359.88 257.35C373.22 257.35 383.60 276.85 396.95 276.85C410.29 276.85 420.67 265.48 434.01 265.48C447.35 265.48 457.73 302.85 471.07 302.85C484.42 302.85 494.79 297.98 508.14 297.98C521.48 297.98 531.86 280.10 545.20 280.10" fill="none" stroke="url(#gl)" stroke-width="1.7"/><path d="M172.96 320.73H176.16" stroke="#d0d2da" stroke-width="1.2" stroke-linecap="round" opacity="0.75"/><path d="M137.5 345.5H545.20" stroke="#b0b4c2" stroke-width="0.95"/><path d="M137.50 345.5V347.40000000000003" stroke="#b0b4c2" stroke-width="0.75"/><text x="137.50" y="355.3" font-size="4.8" fill="#9ca1b2" text-anchor="middle" font-family="Liberation Sans, sans-serif">Jan</text><path d="M174.56 345.5V347.40000000000003" stroke="#b0b4c2" stroke-width="0.75"/><text x="174.56" y="355.3" font-size="4.8" fill="#9ca1b2" text-anchor="middle" font-family="Liberation Sans, sans-serif">Feb</text><path d="M211.63 345.5V347.40000000000003" stroke="#b0b4c2" stroke-width="0.75"/><text x="211.63" y="355.3" font-size="4.8" fill="#9ca1b2" text-anchor="middle" font-family="Liberation Sans, sans-serif">Mar</text><path d="M248.69 345.5V347.40000000000003" stroke="#b0b4c2" stroke-width="0.75"/><text x="248.69" y="355.3" font-size="4.8" fill="#9ca1b2" text-anchor="middle" font-family="Liberation Sans, sans-serif">Apr</text><path d="M285.75 345.5V347.40000000000003" stroke="#b0b4c2" stroke-width="0.75"/><text x="285.75" y="355.3" font-size="4.8" fill="#9ca1b2" text-anchor="middle" font-family="Liberation Sans, sans-serif">May</text><path d="M322.82 345.5V347.40000000000003" stroke="#b0b4c2" stroke-width="0.75"/><text x="322.82" y="355.3" font-size="4.8" fill="#9ca1b2" text-anchor="middle" font-family="Liberation Sans, sans-serif">Jun</text><path d="M359.88 345.5V347.40000000000003" stroke="#b0b4c2" stroke-width="0.75"/><text x="359.88" y="355.3" font-size="4.8" fill="#9ca1b2" text-anchor="middle" font-family="Liberation Sans, sans-serif">Jul</text><path d="M396.95 345.5V347.40000000000003" stroke="#b0b4c2" stroke-width="0.75"/><text x="396.95" y="355.3" font-size="4.8" fill="#9ca1b2" text-anchor="middle" font-family="Liberation Sans, sans-serif">Aug</text><path d="M434.01 345.5V347.40000000000003" stroke="#b0b4c2" stroke-width="0.75"/><text x="434.01" y="355.3" font-size="4.8" fill="#9ca1b2" text-anchor="middle" font-family="Liberation Sans, sans-serif">Sep</text><path d="M471.07 345.5V347.40000000000003" stroke="#b0b4c2" stroke-width="0.75"/><text x="471.07" y="355.3" font-size="4.8" fill="#9ca1b2" text-anchor="middle" font-family="Liberation Sans, sans-serif">Oct</text><path d="M508.14 345.5V347.40000000000003" stroke="#b0b4c2" stroke-width="0.75"/><text x="508.14" y="355.3" font-size="4.8" fill="#9ca1b2" text-anchor="middle" font-family="Liberation Sans, sans-serif">Nov</text><path d="M545.20 345.5V347.40000000000003" stroke="#b0b4c2" stroke-width="0.75"/><text x="545.20" y="355.3" font-size="4.8" fill="#9ca1b2" text-anchor="middle" font-family="Liberation Sans, sans-serif">Dec</text><circle cx="287.9" cy="369.5" r="2.2" fill="#5b8ce8"/><circle cx="338.6" cy="369.5" r="2.2" fill="#ffffff"/></svg>
<div style="position:absolute;top:732.94px;line-height:12.52px;font-size:10.43px;color:#e4e6ee;font-weight:700;white-space:nowrap;letter-spacing:0.00px;left:584.00px;">Monthly Income</div>
<div style="position:absolute;top:733.11px;line-height:12.17px;font-size:10.14px;color:#e4e6ee;font-weight:700;white-space:nowrap;letter-spacing:0.00px;left:686.00px;">Conversation Ratio</div>
<div class="" style="position:absolute;left:1141.40px;top:360.60px;width:442.40px;height:158.20px;background:#5b8ce8;border-radius:3.20px;"></div>
<div style="position:absolute;top:395.60px;line-height:16.81px;font-size:14.01px;color:#ffffff;font-weight:400;white-space:nowrap;letter-spacing:0.16px;left:1158.00px;">Enhance your</div>
<div style="position:absolute;top:395.60px;line-height:16.81px;font-size:14.01px;color:#ffffff;font-weight:700;white-space:nowrap;letter-spacing:0.31px;left:1253.60px;">Campaign</div>
<div style="position:absolute;top:395.60px;line-height:16.81px;font-size:14.01px;color:#ffffff;font-weight:400;white-space:nowrap;letter-spacing:0.19px;left:1331.80px;">for better</div>
<div style="position:absolute;top:418.40px;line-height:16.81px;font-size:14.01px;color:#ffffff;font-weight:400;white-space:nowrap;letter-spacing:0.69px;left:1158.00px;">outreach</div>
<svg style="position:absolute;left:1224.00px;top:423.20px;overflow:visible;" width="9.20" height="7.60" viewBox="0 0 4.6 3.8"><path d="M0.4 1.9H4M2.6 0.5L4.1 1.9L2.6 3.3" fill="none" stroke="#ffffff" stroke-width="0.85" stroke-linecap="round" stroke-linejoin="round"/></svg>
<div class="" style="position:absolute;left:1158.00px;top:457.00px;width:117.20px;height:31.20px;background:#34c38f;border-radius:2.80px;"></div>
<div style="position:absolute;top:465.55px;line-height:14.09px;font-size:11.74px;color:#ffffff;font-weight:400;white-space:nowrap;letter-spacing:0.19px;left:1169.20px;">Upgrade Account!</div>
<svg style="position:absolute;left:0;top:0;overflow:visible" width="1600.00" height="1196.00" viewBox="0 0 800 598"><rect x="732.91" y="193.50" width="1.98" height="2.48" rx="0.3" fill="#f6f8fc" transform="rotate(10 733.9 197.9)"/><rect x="732.91" y="193.50" width="1.98" height="2.48" rx="0.3" fill="#f6f8fc" transform="rotate(55 733.9 197.9)"/><rect x="732.91" y="193.50" width="1.98" height="2.48" rx="0.3" fill="#f6f8fc" transform="rotate(100 733.9 197.9)"/><rect x="732.91" y="193.50" width="1.98" height="2.48" rx="0.3" fill="#f6f8fc" transform="rotate(145 733.9 197.9)"/><rect x="732.91" y="193.50" width="1.98" height="2.48" rx="0.3" fill="#f6f8fc" transform="rotate(190 733.9 197.9)"/><rect x="732.91" y="193.50" width="1.98" height="2.48" rx="0.3" fill="#f6f8fc" transform="rotate(235 733.9 197.9)"/><rect x="732.91" y="193.50" width="1.98" height="2.48" rx="0.3" fill="#f6f8fc" transform="rotate(280 733.9 197.9)"/><rect x="732.91" y="193.50" width="1.98" height="2.48" rx="0.3" fill="#f6f8fc" transform="rotate(325 733.9 197.9)"/><circle cx="733.9" cy="197.9" r="2.42" fill="none" stroke="#f6f8fc" stroke-width="1.71"/><rect x="739.57" y="198.18" width="1.86" height="2.32" rx="0.3" fill="#f6f8fc" transform="rotate(10 740.5 202.3)"/><rect x="739.57" y="198.18" width="1.86" height="2.32" rx="0.3" fill="#f6f8fc" transform="rotate(55 740.5 202.3)"/><rect x="739.57" y="198.18" width="1.86" height="2.32" rx="0.3" fill="#f6f8fc" transform="rotate(100 740.5 202.3)"/><rect x="739.57" y="198.18" width="1.86" height="2.32" rx="0.3" fill="#f6f8fc" transform="rotate(145 740.5 202.3)"/><rect x="739.57" y="198.18" width="1.86" height="2.32" rx="0.3" fill="#f6f8fc" transform="rotate(190 740.5 202.3)"/><rect x="739.57" y="198.18" width="1.86" height="2.32" rx="0.3" fill="#f6f8fc" transform="rotate(235 740.5 202.3)"/><rect x="739.57" y="198.18" width="1.86" height="2.32" rx="0.3" fill="#f6f8fc" transform="rotate(280 740.5 202.3)"/><rect x="739.57" y="198.18" width="1.86" height="2.32" rx="0.3" fill="#f6f8fc" transform="rotate(325 740.5 202.3)"/><circle cx="740.5" cy="202.3" r="2.26" fill="none" stroke="#f6f8fc" stroke-width="1.59"/><rect x="727.26" y="205.34" width="2.69" height="3.36" rx="0.3" fill="#f6f8fc" transform="rotate(10 728.6 211.3)"/><rect x="727.26" y="205.34" width="2.69" height="3.36" rx="0.3" fill="#f6f8fc" transform="rotate(55 728.6 211.3)"/><rect x="727.26" y="205.34" width="2.69" height="3.36" rx="0.3" fill="#f6f8fc" transform="rotate(100 728.6 211.3)"/><rect x="727.26" y="205.34" width="2.69" height="3.36" rx="0.3" fill="#f6f8fc" transform="rotate(145 728.6 211.3)"/><rect x="727.26" y="205.34" width="2.69" height="3.36" rx="0.3" fill="#f6f8fc" transform="rotate(190 728.6 211.3)"/><rect x="727.26" y="205.34" width="2.69" height="3.36" rx="0.3" fill="#f6f8fc" transform="rotate(235 728.6 211.3)"/><rect x="727.26" y="205.34" width="2.69" height="3.36" rx="0.3" fill="#f6f8fc" transform="rotate(280 728.6 211.3)"/><rect x="727.26" y="205.34" width="2.69" height="3.36" rx="0.3" fill="#f6f8fc" transform="rotate(325 728.6 211.3)"/><circle cx="728.6" cy="211.3" r="3.28" fill="none" stroke="#f6f8fc" stroke-width="2.31"/><path d="M730.9 212.3L766 191.8L766.7 220.1L729.7 238.8Z" fill="#f6f5f0"/><path d="M729.7 238.8L766.7 220.1L766.7 221.1L729.7 239.9Z" fill="#e6e2d4"/><path d="M730.9 212.3L766 191.8L766.1 194.3L730.8 214.9Z" fill="#2fb77f"/><path d="M747.1 206.9L764 197.3V214.1L747.1 223.8Z" fill="#d9dbe1"/><path d="M735.7 215.6L745.6 210.5V220.1L735.7 224.6Z" fill="#2fb77f"/><circle cx="740.6" cy="217.6" r="2.0" fill="#1f2a33"/><path d="M739.4 218.8L741.8 216.4" stroke="#dfe6ea" stroke-width="0.6"/><path d="M733.6 233.6L738.6 231" stroke="#cfe9dc" stroke-width="1.2"/><path d="M731.4 238C727 236.6 725.6 234 725.4 231.6C728 232.4 730 234.4 731.4 238ZM731.6 237C729.4 233.6 729 230.8 729.6 228.6C731.6 230.4 732.4 233.4 731.6 237ZM731.4 239C727.6 239.4 725.6 238 724.6 236.4C727.4 236 729.8 237 731.4 239Z" fill="#2fb77f"/><path d="M751.3 211.7L768.8 202.1V214.7L752 223.8Z" fill="#2fb77f"/><path d="M752.5 212.5L767.7 204.1V214L753.1 222Z" fill="none" stroke="#e9f6ef" stroke-width="0.4"/><path d="M755 219.6V215.4M756.8 218.6V212.6M758.6 217.6V214.6M760.4 216.6V210.6M762.2 215.6V212.4M764 214.6V208.8M765.8 213.6V210.8" stroke="#f2faf6" stroke-width="1.05"/><ellipse cx="745.8" cy="243.9" rx="5.2" ry="2.5" fill="#f7f3e6"/><path d="M745.4 228.4L745 236L745.4 242.6" fill="none" stroke="#27303a" stroke-width="1.7" stroke-linecap="round" stroke-linejoin="round"/><path d="M746.8 228.4L749.6 234.6L753.6 238.6" fill="none" stroke="#27303a" stroke-width="1.7" stroke-linecap="round" stroke-linejoin="round"/><path d="M753.6 238.6L754.6 240.6" stroke="#d98d6c" stroke-width="1.1" stroke-linecap="round"/><path d="M745.2 242.6L746.2 243.8" stroke="#d98d6c" stroke-width="1.1" stroke-linecap="round"/><path d="M743.8 221.6L747.6 221.2L748 228.8H743.9Z" fill="#2fb77f"/><path d="M744 222.6L740.4 223L736 220.2" fill="none" stroke="#27303a" stroke-width="1.1" stroke-linecap="round" stroke-linejoin="round"/><path d="M737.4 221L735.6 219.8" stroke="#ef9a86" stroke-width="1.1" stroke-linecap="round"/><circle cx="746" cy="219" r="1.9" fill="#1d232c"/><path d="M747 218.4C748.6 219 748.4 221.6 747.6 222.6" stroke="#1d232c" stroke-width="1.2" fill="none"/><circle cx="745.4" cy="219.4" r="1.0" fill="#e9a58a"/><ellipse cx="773.4" cy="227.2" rx="5.4" ry="2.6" fill="#f7f3e6"/><path d="M772.8 212.4L772.6 220L772 225.6M775.6 212.4L775.8 220L775.8 226" fill="none" stroke="#3a4048" stroke-width="1.8" stroke-linecap="round" stroke-linejoin="round"/><path d="M771.6 226.2H773.2M775.4 226.8H777" stroke="#1d232c" stroke-width="1.2" stroke-linecap="round"/><path d="M770.8 204.6L776.4 204.8L776.8 212.8H771.2Z" fill="#2fb77f"/><path d="M776 205.2L777 209.2L772.4 210" fill="none" stroke="#3a4048" stroke-width="1.3" stroke-linecap="round" stroke-linejoin="round"/><path d="M771.2 205.6L768.4 205.2M772.4 210L768.6 208.8" fill="none" stroke="#8a4b35" stroke-width="1.1" stroke-linecap="round"/><circle cx="773.2" cy="201.7" r="2.0" fill="#8a4b35"/><path d="M771.2 201.2C771.2 198.8 775.4 198.8 775.4 201.4C774 200.4 772.6 200.4 771.2 201.2Z" fill="#1d232c"/></svg>
<div class="card" style="position:absolute;left:1141.40px;top:537.20px;width:442.40px;height:226.00px;"></div>
<div style="position:absolute;top:552.72px;line-height:15.36px;font-size:12.80px;color:#ffffff;font-weight:700;white-space:nowrap;letter-spacing:-0.02px;left:1158.00px;">Top Selling Products</div>
<div style="position:absolute;top:554.71px;line-height:14.58px;font-size:12.15px;color:#989db0;font-weight:400;white-space:nowrap;letter-spacing:0.09px;left:1470.80px;">Sort By: Yearly</div>
<svg style="position:absolute;left:1557.80px;top:561.50px;overflow:visible;" width="5.20" height="2.60" viewBox="0 0 2.6 1.3"><path d="M0.2 0.1 L1.3 1.0 L2.4 0.1" fill="none" stroke="#989db0" stroke-width="0.7" stroke-linecap="round" stroke-linejoin="round"/></svg>
<div class="" style="position:absolute;left:1161.80px;top:600.60px;width:3.80px;height:3.80px;background:#5b8ce8;border-radius:1.00px;"></div>
<div style="position:absolute;top:594.52px;line-height:14.57px;font-size:12.14px;color:#989db0;font-weight:400;white-space:nowrap;letter-spacing:0.00px;left:1179.40px;">Desktops</div>
<div class="" style="position:absolute;left:1255.80px;top:602.40px;width:310.00px;height:4.40px;background:#353a49;border-radius:2.20px;"></div>
<div class="" style="position:absolute;left:1255.80px;top:602.40px;width:161.20px;height:4.40px;background:#5b8ce8;border-radius:2.20px;"></div>
<div class="" style="position:absolute;left:1161.80px;top:634.80px;width:3.80px;height:3.80px;background:#50a5f1;border-radius:1.00px;"></div>
<div style="position:absolute;top:628.83px;line-height:14.34px;font-size:11.95px;color:#989db0;font-weight:400;white-space:nowrap;letter-spacing:0.00px;left:1179.40px;">iPhones</div>
<div class="" style="position:absolute;left:1255.80px;top:636.60px;width:310.00px;height:4.40px;background:#353a49;border-radius:2.20px;"></div>
<div class="" style="position:absolute;left:1255.80px;top:636.60px;width:139.50px;height:4.40px;background:#50a5f1;border-radius:2.20px;"></div>
<div class="" style="position:absolute;left:1161.80px;top:668.70px;width:3.80px;height:3.80px;background:#34c38f;border-radius:1.00px;"></div>
<div style="position:absolute;top:662.48px;line-height:14.83px;font-size:12.36px;color:#989db0;font-weight:400;white-space:nowrap;letter-spacing:0.17px;left:1179.40px;">Android</div>
<div class="" style="position:absolute;left:1255.80px;top:670.50px;width:310.00px;height:4.40px;background:#353a49;border-radius:2.20px;"></div>
<div class="" style="position:absolute;left:1255.80px;top:670.50px;width:148.80px;height:4.40px;background:#34c38f;border-radius:2.20px;"></div>
<div class="" style="position:absolute;left:1161.80px;top:702.80px;width:3.80px;height:3.80px;background:#f1b44c;border-radius:1.00px;"></div>
<div style="position:absolute;top:696.58px;line-height:14.83px;font-size:12.36px;color:#989db0;font-weight:400;white-space:nowrap;letter-spacing:0.01px;left:1179.40px;">Tablets</div>
<div class="" style="position:absolute;left:1255.80px;top:704.60px;width:310.00px;height:4.40px;background:#353a49;border-radius:2.20px;"></div>
<div class="" style="position:absolute;left:1255.80px;top:704.60px;width:241.80px;height:4.40px;background:#f1b44c;border-radius:2.20px;"></div>
<div class="" style="position:absolute;left:1161.80px;top:737.10px;width:3.80px;height:3.80px;background:#b9bdca;border-radius:1.00px;"></div>
<div style="position:absolute;top:731.21px;line-height:14.19px;font-size:11.82px;color:#989db0;font-weight:400;white-space:nowrap;letter-spacing:0.00px;left:1179.40px;">Cables</div>
<div class="" style="position:absolute;left:1255.80px;top:738.90px;width:310.00px;height:4.40px;background:#353a49;border-radius:2.20px;"></div>
<div class="" style="position:absolute;left:1255.80px;top:738.90px;width:195.30px;height:4.40px;background:#5b8ce8;border-radius:2.20px;"></div>
<div class="card" style="position:absolute;left:224.80px;top:780.20px;width:441.20px;height:348.80px;"></div>
<div style="position:absolute;top:797.12px;line-height:15.36px;font-size:12.80px;color:#ffffff;font-weight:700;white-space:nowrap;letter-spacing:-0.10px;left:242.00px;">Top Users</div>
<div style="position:absolute;top:798.59px;line-height:14.43px;font-size:12.02px;color:#989db0;font-weight:400;white-space:nowrap;letter-spacing:0.00px;left:566.60px;">All Members</div>
<svg style="position:absolute;left:640.80px;top:805.30px;overflow:visible;" width="5.20" height="2.60" viewBox="0 0 2.6 1.3"><path d="M0.2 0.1 L1.3 1.0 L2.4 0.1" fill="none" stroke="#989db0" stroke-width="0.7" stroke-linecap="round" stroke-linejoin="round"/></svg>
<svg style="position:absolute;left:0;top:0;overflow:visible" width="1600.00" height="1196.00" viewBox="0 0 800 598"><circle cx="132.4" cy="429.45" r="7.3" fill="#20232d" stroke="#363a48" stroke-width="0.4"/><defs><clipPath id="ua0"><circle cx="132.4" cy="429.45" r="6.4"/></clipPath></defs><g clip-path="url(#ua0)"><g transform="translate(132.4 429.45) scale(1.12) translate(-132.4 -429.45)"><rect x="126.0" y="423.05" width="14" height="14" fill="#ded6da"/><path d="M128.8 436.45V428.45C128.8 424.05 131.0 423.45 132.6 423.45C135.20000000000002 423.45 136.4 425.45 136.20000000000002 429.45V436.45Z" fill="#8f4a33"/><ellipse cx="132.6" cy="428.25" rx="2.1" ry="2.7" fill="#eec4aa"/><path d="M129.0 436.45C129.4 432.84999999999997 131.20000000000002 432.05 132.6 432.05C134.20000000000002 432.05 135.8 432.84999999999997 136.20000000000002 436.45Z" fill="#e7b69c"/></g></g></svg>
<div style="position:absolute;top:842.71px;line-height:15.19px;font-size:12.66px;color:#eceef4;font-weight:400;white-space:nowrap;-webkit-text-stroke:0.24px #eceef4;letter-spacing:0.00px;left:297.80px;">Glenn Holden</div>
<svg style="position:absolute;left:0;top:0;overflow:visible" width="1600.00" height="1196.00" viewBox="0 0 800 598"><path d="M151.5 436.25C150.3 434.85 149.9 434.25 149.9 433.55A1.6 1.6 0 0 1 153.1 433.55C153.1 434.25 152.7 434.85 151.5 436.25Z" fill="#989db0"/><circle cx="151.5" cy="433.55" r="0.55" fill="#2a2e3a"/></svg>
<div style="position:absolute;top:862.67px;line-height:13.27px;font-size:11.06px;color:#989db0;font-weight:400;white-space:nowrap;letter-spacing:-0.42px;left:312.20px;">Nevada</div>
<div class="" style="position:absolute;left:456.60px;top:854.30px;width:39.00px;height:14.60px;border-radius:2.20px;background:rgba(244,106,106,0.25);"></div>
<div style="position:absolute;top:855.66px;line-height:11.87px;font-size:9.89px;color:#f46a6a;font-weight:400;white-space:nowrap;letter-spacing:0.00px;left:460.70px;">Cancel</div>
<div style="position:absolute;top:851.57px;line-height:15.45px;font-size:12.88px;color:#c3c7d4;font-weight:400;white-space:nowrap;letter-spacing:0.04px;left:592.60px;">$250.00</div>
<svg style="position:absolute;left:0;top:0;overflow:visible" width="1600.00" height="1196.00" viewBox="0 0 800 598"><circle cx="132.4" cy="456.5" r="7.3" fill="#20232d" stroke="#363a48" stroke-width="0.4"/><defs><clipPath id="ua1"><circle cx="132.4" cy="456.5" r="6.4"/></clipPath></defs><g clip-path="url(#ua1)"><g transform="translate(132.4 456.5) scale(1.12) translate(-132.4 -456.5)"><rect x="126.0" y="450.1" width="14" height="14" fill="#3b3336"/><path d="M128.8 460.5V454.5C128.8 450.5 136.20000000000002 450.5 136.20000000000002 454.5V460.5Z" fill="#2a1a17"/><ellipse cx="132.4" cy="454.9" rx="2" ry="2.5" fill="#e3b394"/><path d="M127.4 463.5C127.80000000000001 459.3 130.8 458.5 132.4 458.5C134.0 458.5 137.0 459.3 137.4 463.5Z" fill="#b0262d"/></g></g></svg>
<div style="position:absolute;top:896.67px;line-height:15.45px;font-size:12.88px;color:#eceef4;font-weight:400;white-space:nowrap;-webkit-text-stroke:0.24px #eceef4;letter-spacing:0.03px;left:297.80px;">Lolita Hamill</div>
<svg style="position:absolute;left:0;top:0;overflow:visible" width="1600.00" height="1196.00" viewBox="0 0 800 598"><path d="M151.5 463.30C150.3 461.90 149.9 461.30 149.9 460.60A1.6 1.6 0 0 1 153.1 460.60C153.1 461.30 152.7 461.90 151.5 463.30Z" fill="#989db0"/><circle cx="151.5" cy="460.60" r="0.55" fill="#2a2e3a"/></svg>
<div style="position:absolute;top:916.77px;line-height:13.27px;font-size:11.06px;color:#989db0;font-weight:400;white-space:nowrap;letter-spacing:-0.38px;left:312.20px;">Texas</div>
<div class="" style="position:absolute;left:456.60px;top:908.40px;width:45.00px;height:14.60px;border-radius:2.20px;background:rgba(52,195,143,0.25);"></div>
<div style="position:absolute;top:909.86px;line-height:11.68px;font-size:9.74px;color:#34c38f;font-weight:400;white-space:nowrap;letter-spacing:0.00px;left:460.70px;">Success</div>
<div style="position:absolute;top:905.67px;line-height:15.45px;font-size:12.88px;color:#c3c7d4;font-weight:400;white-space:nowrap;letter-spacing:0.17px;left:592.60px;">$110.00</div>
<svg style="position:absolute;left:0;top:0;overflow:visible" width="1600.00" height="1196.00" viewBox="0 0 800 598"><circle cx="132.4" cy="483.55" r="7.3" fill="#20232d" stroke="#363a48" stroke-width="0.4"/><defs><clipPath id="ua2"><circle cx="132.4" cy="483.55" r="6.4"/></clipPath></defs><g clip-path="url(#ua2)"><g transform="translate(132.4 483.55) scale(1.12) translate(-132.4 -483.55)"><rect x="126.0" y="477.15000000000003" width="14" height="14" fill="#1c2c44"/><rect x="126.0" y="477.15000000000003" width="5" height="14" fill="#e2793a"/><rect x="135.4" y="477.15000000000003" width="4" height="9" fill="#3fa6d8"/><ellipse cx="132.4" cy="482.15000000000003" rx="2.2" ry="2.7" fill="#1a1a20"/><ellipse cx="132.4" cy="482.95" rx="1.6" ry="1.9" fill="#c98f6d"/><path d="M127.80000000000001 490.55C128.20000000000002 486.55 130.8 485.75 132.4 485.75C134.0 485.75 136.6 486.55 137.0 490.55Z" fill="#14161c"/></g></g></svg>
<div style="position:absolute;top:950.97px;line-height:15.06px;font-size:12.55px;color:#eceef4;font-weight:400;white-space:nowrap;-webkit-text-stroke:0.24px #eceef4;letter-spacing:0.00px;left:297.80px;">Robert Mercer</div>
<svg style="position:absolute;left:0;top:0;overflow:visible" width="1600.00" height="1196.00" viewBox="0 0 800 598"><path d="M151.5 490.35C150.3 488.95 149.9 488.35 149.9 487.65A1.6 1.6 0 0 1 153.1 487.65C153.1 488.35 152.7 488.95 151.5 490.35Z" fill="#989db0"/><circle cx="151.5" cy="487.65" r="0.55" fill="#2a2e3a"/></svg>
<div style="position:absolute;top:970.85px;line-height:13.29px;font-size:11.08px;color:#989db0;font-weight:400;white-space:nowrap;letter-spacing:0.00px;left:312.20px;">California</div>
<div class="" style="position:absolute;left:456.60px;top:962.50px;width:36.80px;height:14.60px;border-radius:2.20px;background:rgba(80,165,241,0.25);"></div>
<div style="position:absolute;top:963.74px;line-height:12.11px;font-size:10.09px;color:#50a5f1;font-weight:400;white-space:nowrap;letter-spacing:0.15px;left:460.80px;">Active</div>
<div style="position:absolute;top:959.77px;line-height:15.45px;font-size:12.88px;color:#c3c7d4;font-weight:400;white-space:nowrap;letter-spacing:0.04px;left:592.60px;">$420.00</div>
<svg style="position:absolute;left:0;top:0;overflow:visible" width="1600.00" height="1196.00" viewBox="0 0 800 598"><circle cx="132.4" cy="510.6" r="7.3" fill="#20232d" stroke="#363a48" stroke-width="0.4"/><defs><clipPath id="ua3"><circle cx="132.4" cy="510.6" r="6.4"/></clipPath></defs><g clip-path="url(#ua3)"><g transform="translate(132.4 510.6) scale(1.12) translate(-132.4 -510.6)"><rect x="126.0" y="504.20000000000005" width="14" height="14" fill="#e4e5e8"/><path d="M131.4 505.6C135.4 505.0 137.0 508.6 135.4 511.6L130.4 511.0C129.0 508.6 129.4 506.20000000000005 131.4 505.6Z" fill="#5b5350"/><ellipse cx="132.8" cy="509.8" rx="1.8" ry="2.2" fill="#e9c9b6"/><path d="M127.4 517.6C128.4 513.2 131.4 512.6 133.0 512.6C135.0 512.6 137.4 513.6 137.8 517.6Z" fill="#f6f6f8"/></g></g></svg>
<div style="position:absolute;top:1005.03px;line-height:15.14px;font-size:12.62px;color:#eceef4;font-weight:400;white-space:nowrap;-webkit-text-stroke:0.24px #eceef4;letter-spacing:-0.00px;left:297.80px;">Marie Kim</div>
<svg style="position:absolute;left:0;top:0;overflow:visible" width="1600.00" height="1196.00" viewBox="0 0 800 598"><path d="M151.5 517.40C150.3 516.00 149.9 515.40 149.9 514.70A1.6 1.6 0 0 1 153.1 514.70C153.1 515.40 152.7 516.00 151.5 517.40Z" fill="#989db0"/><circle cx="151.5" cy="514.70" r="0.55" fill="#2a2e3a"/></svg>
<div style="position:absolute;top:1024.97px;line-height:13.27px;font-size:11.06px;color:#989db0;font-weight:400;white-space:nowrap;letter-spacing:-0.03px;left:312.20px;">Montana</div>
<div class="" style="position:absolute;left:456.60px;top:1016.60px;width:45.60px;height:14.60px;border-radius:2.20px;background:rgba(241,180,76,0.25);"></div>
<div style="position:absolute;top:1017.84px;line-height:12.11px;font-size:10.09px;color:#f1b44c;font-weight:400;white-space:nowrap;letter-spacing:0.02px;left:460.80px;">Pending</div>
<div style="position:absolute;top:1013.88px;line-height:15.45px;font-size:12.88px;color:#c3c7d4;font-weight:400;white-space:nowrap;letter-spacing:0.04px;left:592.60px;">$120.00</div>
<svg style="position:absolute;left:0;top:0;overflow:visible" width="1600.00" height="1196.00" viewBox="0 0 800 598"><circle cx="132.4" cy="537.65" r="7.3" fill="#20232d" stroke="#363a48" stroke-width="0.4"/><defs><clipPath id="ua4"><circle cx="132.4" cy="537.65" r="6.4"/></clipPath></defs><g clip-path="url(#ua4)"><g transform="translate(132.4 537.65) scale(1.12) translate(-132.4 -537.65)"><rect x="126.0" y="531.25" width="14" height="14" fill="#dcdde2"/><path d="M125.4 538.65L131.4 534.65L134.4 544.65H125.4Z" fill="#f4f4f6"/><path d="M130.8 533.05C134.4 532.05 136.0 534.65 135.4 537.05L131.4 537.25Z" fill="#4a3a36"/><ellipse cx="133.20000000000002" cy="536.4499999999999" rx="1.7" ry="2.1" fill="#e6c2ad"/><path d="M130.4 544.65C130.8 540.65 132.4 539.65 134.0 539.65C136.0 539.65 137.8 541.05 138.0 544.65Z" fill="#3c4a63"/></g></g></svg>
<div style="position:absolute;top:1059.32px;line-height:14.76px;font-size:12.30px;color:#eceef4;font-weight:400;white-space:nowrap;-webkit-text-stroke:0.24px #eceef4;letter-spacing:0.00px;left:297.80px;">Sonya Henshaw</div>
<svg style="position:absolute;left:0;top:0;overflow:visible" width="1600.00" height="1196.00" viewBox="0 0 800 598"><path d="M151.5 544.45C150.3 543.05 149.9 542.45 149.9 541.75A1.6 1.6 0 0 1 153.1 541.75C153.1 542.45 152.7 543.05 151.5 544.45Z" fill="#989db0"/><circle cx="151.5" cy="541.75" r="0.55" fill="#2a2e3a"/></svg>
<div style="position:absolute;top:1079.07px;line-height:13.27px;font-size:11.06px;color:#989db0;font-weight:400;white-space:nowrap;letter-spacing:-0.08px;left:312.20px;">Colorado</div>
<div class="" style="position:absolute;left:456.60px;top:1070.70px;width:36.80px;height:14.60px;border-radius:2.20px;background:rgba(80,165,241,0.25);"></div>
<div style="position:absolute;top:1071.94px;line-height:12.11px;font-size:10.09px;color:#50a5f1;font-weight:400;white-space:nowrap;letter-spacing:0.15px;left:460.80px;">Active</div>
<div style="position:absolute;top:1067.98px;line-height:15.45px;font-size:12.88px;color:#c3c7d4;font-weight:400;white-space:nowrap;letter-spacing:0.17px;left:592.60px;">$112.00</div>
<div class="card" style="position:absolute;left:683.40px;top:780.20px;width:441.40px;height:348.80px;"></div>
<div style="position:absolute;top:796.92px;line-height:15.76px;font-size:13.13px;color:#ffffff;font-weight:700;white-space:nowrap;letter-spacing:0.00px;left:699.40px;">Recent Activity</div>
<div style="position:absolute;top:798.60px;line-height:14.39px;font-size:11.99px;color:#989db0;font-weight:400;white-space:nowrap;letter-spacing:0.00px;left:1055.40px;">Recent</div>
<svg style="position:absolute;left:1099.00px;top:805.30px;overflow:visible;" width="5.20" height="2.60" viewBox="0 0 2.6 1.3"><path d="M0.2 0.1 L1.3 1.0 L2.4 0.1" fill="none" stroke="#989db0" stroke-width="0.7" stroke-linecap="round" stroke-linejoin="round"/></svg>
<div style="position:absolute;left:690.00px;top:824.00px;width:428.00px;height:289.40px;overflow:hidden;">
<div class="" style="position:absolute;left:16.70px;top:16.00px;width:0.80px;height:320.00px;background:#393e50;"></div>
<div class="" style="position:absolute;left:12.50px;top:11.20px;width:9.20px;height:9.20px;border-radius:50%;border:2.00px solid #5b8ce8;background:#2a2e3a;"></div>
<div style="position:absolute;top:9.93px;line-height:13.74px;font-size:11.45px;color:#b4b8c6;font-weight:400;white-space:nowrap;letter-spacing:-0.39px;left:31.40px;">Today</div>
<div style="position:absolute;top:12.31px;line-height:10.38px;font-size:8.65px;color:#b4b8c6;font-weight:400;white-space:nowrap;letter-spacing:0.17px;left:63.80px;">12:20 pm</div>
<div style="position:absolute;top:29.97px;line-height:14.45px;font-size:12.04px;color:#989db0;font-weight:400;white-space:nowrap;letter-spacing:0.00px;left:31.40px;">Andrei Coman magna sed porta finibus, risus posted a new article:</div>
<div style="position:absolute;top:46.96px;line-height:14.08px;font-size:11.73px;color:#5b8ce8;font-weight:400;white-space:nowrap;letter-spacing:0.00px;left:31.40px;">Forget UX Rowland</div>
<div class="" style="position:absolute;left:12.50px;top:88.20px;width:9.20px;height:9.20px;border-radius:50%;border:2.00px solid #5b8ce8;background:#2a2e3a;"></div>
<div style="position:absolute;top:86.93px;line-height:13.74px;font-size:11.45px;color:#b4b8c6;font-weight:400;white-space:nowrap;letter-spacing:-0.06px;left:31.40px;">22 Jul, 2020</div>
<div style="position:absolute;top:89.31px;line-height:10.38px;font-size:8.65px;color:#b4b8c6;font-weight:400;white-space:nowrap;letter-spacing:0.17px;left:99.60px;">12:36 pm</div>
<div style="position:absolute;top:106.61px;line-height:14.38px;font-size:11.98px;color:#989db0;font-weight:400;white-space:nowrap;letter-spacing:0.00px;left:31.40px;">Andrei Coman posted a new article:</div>
<div style="position:absolute;top:106.64px;line-height:14.31px;font-size:11.93px;color:#5b8ce8;font-weight:400;white-space:nowrap;letter-spacing:0.00px;left:225.60px;">Designer Alex</div>
<div class="" style="position:absolute;left:12.50px;top:146.80px;width:9.20px;height:9.20px;border-radius:50%;border:2.00px solid #5b8ce8;background:#2a2e3a;"></div>
<div style="position:absolute;top:145.53px;line-height:13.74px;font-size:11.45px;color:#b4b8c6;font-weight:400;white-space:nowrap;letter-spacing:-0.06px;left:31.40px;">18 Jul, 2020</div>
<div style="position:absolute;top:147.91px;line-height:10.38px;font-size:8.65px;color:#b4b8c6;font-weight:400;white-space:nowrap;letter-spacing:0.17px;left:99.60px;">07:56 am</div>
<div style="position:absolute;top:165.62px;line-height:14.36px;font-size:11.96px;color:#989db0;font-weight:400;white-space:nowrap;letter-spacing:0.00px;left:31.40px;">Zack Wetass, sed porta finibus, risus Chris Wallace Commented</div>
<div style="position:absolute;top:182.78px;line-height:14.44px;font-size:12.03px;color:#5b8ce8;font-weight:400;white-space:nowrap;letter-spacing:-0.00px;left:31.40px;">Developer Moreno</div>
<div class="" style="position:absolute;left:12.50px;top:223.80px;width:9.20px;height:9.20px;border-radius:50%;border:2.00px solid #5b8ce8;background:#2a2e3a;"></div>
<div style="position:absolute;top:222.53px;line-height:13.74px;font-size:11.45px;color:#b4b8c6;font-weight:400;white-space:nowrap;letter-spacing:-0.06px;left:31.40px;">10 Jul, 2020</div>
<div style="position:absolute;top:224.91px;line-height:10.38px;font-size:8.65px;color:#b4b8c6;font-weight:400;white-space:nowrap;letter-spacing:0.17px;left:99.60px;">08:42 pm</div>
<div style="position:absolute;top:242.66px;line-height:14.28px;font-size:11.90px;color:#989db0;font-weight:400;white-space:nowrap;letter-spacing:0.00px;left:31.40px;">Zack Wetass, Chris combined Commented</div>
<div style="position:absolute;top:242.72px;line-height:14.16px;font-size:11.80px;color:#5b8ce8;font-weight:400;white-space:nowrap;letter-spacing:0.00px;left:261.60px;">UX Murphy</div>
<div class="" style="position:absolute;left:12.50px;top:284.20px;width:9.20px;height:9.20px;border-radius:50%;border:2.00px solid #5b8ce8;background:#2a2e3a;"></div>
<div style="position:absolute;top:282.93px;line-height:13.74px;font-size:11.45px;color:#b4b8c6;font-weight:400;white-space:nowrap;letter-spacing:-0.25px;left:31.40px;">23 Jun, 2020</div>
<div style="position:absolute;top:285.31px;line-height:10.38px;font-size:8.65px;color:#b4b8c6;font-weight:400;white-space:nowrap;letter-spacing:0.17px;left:101.20px;">12:22 am</div>
</div>
<div class="card" style="position:absolute;left:1141.20px;top:780.20px;width:442.20px;height:348.80px;"></div>
<div style="position:absolute;top:796.92px;line-height:15.36px;font-size:12.80px;color:#ffffff;font-weight:700;white-space:nowrap;letter-spacing:-0.07px;left:1158.00px;">Social Source</div>
<div style="position:absolute;top:798.51px;line-height:14.58px;font-size:12.15px;color:#989db0;font-weight:400;white-space:nowrap;letter-spacing:0.26px;left:1507.40px;">Monthly</div>
<svg style="position:absolute;left:1558.00px;top:805.30px;overflow:visible;" width="5.20" height="2.60" viewBox="0 0 2.6 1.3"><path d="M0.2 0.1 L1.3 1.0 L2.4 0.1" fill="none" stroke="#989db0" stroke-width="0.7" stroke-linecap="round" stroke-linejoin="round"/></svg>
<svg style="position:absolute;left:0;top:0;overflow:visible" width="1600.00" height="1196.00" viewBox="0 0 800 598"><circle cx="681" cy="419" r="9.9" fill="#3a476b"/><circle cx="681" cy="419" r="4.4" fill="#5b8ce8"/><text x="681.5" y="422.6" font-size="7" font-weight="700" fill="#3a476b" text-anchor="middle" font-family="Liberation Sans, sans-serif">f</text><circle cx="610.3" cy="507.3" r="7" fill="#5b8ce8"/><circle cx="610.3" cy="507.3" r="3.1" fill="#ffffff"/><text x="610.7" y="509.9" font-size="5" font-weight="700" fill="#5b8ce8" text-anchor="middle" font-family="Liberation Sans, sans-serif">f</text><circle cx="681" cy="507.3" r="7" fill="#50a5f1"/><path d="M677.8 509.6C680.6 511 684 509.4 684 506.2L684.7 505.4L683.9 505.6C683.4 504.6 682 504.6 681.4 505.6V506.4C680 506.4 679 505.8 678.2 504.9C677.8 506 678.2 507 679 507.6L678.1 507.5C678.2 508.3 678.8 508.8 679.6 509C679 509.4 678.4 509.6 677.8 509.6Z" fill="#ffffff"/><circle cx="751.8" cy="507.3" r="7" fill="#e83e8c"/><rect x="748.9" y="504.4" width="5.8" height="5.8" rx="1.6" fill="none" stroke="#ffffff" stroke-width="0.75"/><circle cx="751.8" cy="507.3" r="1.35" fill="none" stroke="#ffffff" stroke-width="0.75"/><circle cx="753.5" cy="505.6" r="0.4" fill="#fff"/></svg>
<div style="position:absolute;top:879.40px;line-height:16.81px;font-size:14.01px;color:#ffffff;font-weight:700;white-space:nowrap;letter-spacing:0.45px;left:1289.20px;">Facebook -</div>
<div style="position:absolute;top:879.40px;line-height:16.81px;font-size:14.01px;color:#b4b8c6;font-weight:400;white-space:nowrap;letter-spacing:0.36px;left:1371.80px;">125 sales</div>
<div style="position:absolute;top:904.88px;line-height:13.84px;font-size:11.54px;color:#989db0;font-weight:400;white-space:nowrap;letter-spacing:0.27px;left:1165.20px;">Maecenas nec odio et ante tincidunt tempus. Donec vitae sapien ut libero</div>
<div style="position:absolute;top:922.28px;line-height:13.84px;font-size:11.54px;color:#989db0;font-weight:400;white-space:nowrap;letter-spacing:0.33px;left:1284.80px;">venenatis faucibus tincidunt.</div>
<div style="position:absolute;top:952.89px;line-height:14.22px;font-size:11.85px;color:#989db0;font-weight:400;white-space:nowrap;letter-spacing:0.00px;left:1324.20px;">Learn more</div>
<svg style="position:absolute;left:1392.40px;top:957.20px;overflow:visible;" width="4.00" height="6.00" viewBox="0 0 2 3"><path d="M0.4 0.3L1.7 1.5L0.4 2.7" fill="none" stroke="#9297a9" stroke-width="0.65" stroke-linecap="round" stroke-linejoin="round"/></svg>
<div style="position:absolute;top:1041.78px;line-height:14.45px;font-size:12.04px;color:#ffffff;font-weight:700;white-space:nowrap;letter-spacing:-0.00px;left:1192.50px;">Facebook</div>
<div style="position:absolute;top:1065.71px;line-height:14.58px;font-size:12.15px;color:#989db0;font-weight:400;white-space:nowrap;letter-spacing:0.06px;left:1194.30px;">125 sales</div>
<div style="position:absolute;top:1041.58px;line-height:14.83px;font-size:12.36px;color:#ffffff;font-weight:700;white-space:nowrap;letter-spacing:0.17px;left:1341.60px;">Twitter</div>
<div style="position:absolute;top:1065.71px;line-height:14.58px;font-size:12.15px;color:#989db0;font-weight:400;white-space:nowrap;letter-spacing:0.16px;left:1335.70px;">112 sales</div>
<div style="position:absolute;top:1041.58px;line-height:14.83px;font-size:12.36px;color:#ffffff;font-weight:700;white-space:nowrap;letter-spacing:0.08px;left:1473.70px;">Instagram</div>
<div style="position:absolute;top:1065.71px;line-height:14.58px;font-size:12.15px;color:#989db0;font-weight:400;white-space:nowrap;letter-spacing:0.06px;left:1477.30px;">104 sales</div>
<div style="position:absolute;top:1096.36px;line-height:14.47px;font-size:12.06px;color:#5b8ce8;font-weight:400;white-space:nowrap;letter-spacing:0.00px;left:1310.40px;">View All Sources</div>
<svg style="position:absolute;left:1406.80px;top:1100.80px;overflow:visible;" width="4.00" height="6.00" viewBox="0 0 2 3"><path d="M0.4 0.3L1.7 1.5L0.4 2.7" fill="none" stroke="#5b8ce8" stroke-width="0.65" stroke-linecap="round" stroke-linejoin="round"/></svg>
<div style="position:absolute;top:1164.91px;line-height:14.58px;font-size:12.15px;color:#989db0;font-weight:400;white-space:nowrap;letter-spacing:0.12px;left:224.80px;">2020 © Minible.</div>
<div style="position:absolute;top:1164.91px;line-height:14.58px;font-size:12.15px;color:#989db0;font-weight:400;white-space:nowrap;letter-spacing:0.16px;left:1408.80px;">Crafted with</div>
<div style="position:absolute;top:1165.52px;line-height:12.96px;font-size:10.80px;color:#f46a6a;font-weight:400;white-space:nowrap;left:1479.20px;">♥</div>
<div style="position:absolute;top:1164.91px;line-height:14.58px;font-size:12.15px;color:#989db0;font-weight:400;white-space:nowrap;letter-spacing:0.07px;left:1491.20px;">by Themesbrand</div>
<div class="" style="position:absolute;left:0.00px;top:0.00px;width:1600.00px;height:2.60px;background:#353946;"></div>
<div class="" style="position:absolute;left:0.00px;top:1192.80px;width:1600.00px;height:3.20px;background:rgba(20,22,30,0.35);"></div>
<div class="" style="position:absolute;left:0.00px;top:0.00px;width:1.80px;height:1196.00px;background:#343845;"></div>
</div></body></html>
